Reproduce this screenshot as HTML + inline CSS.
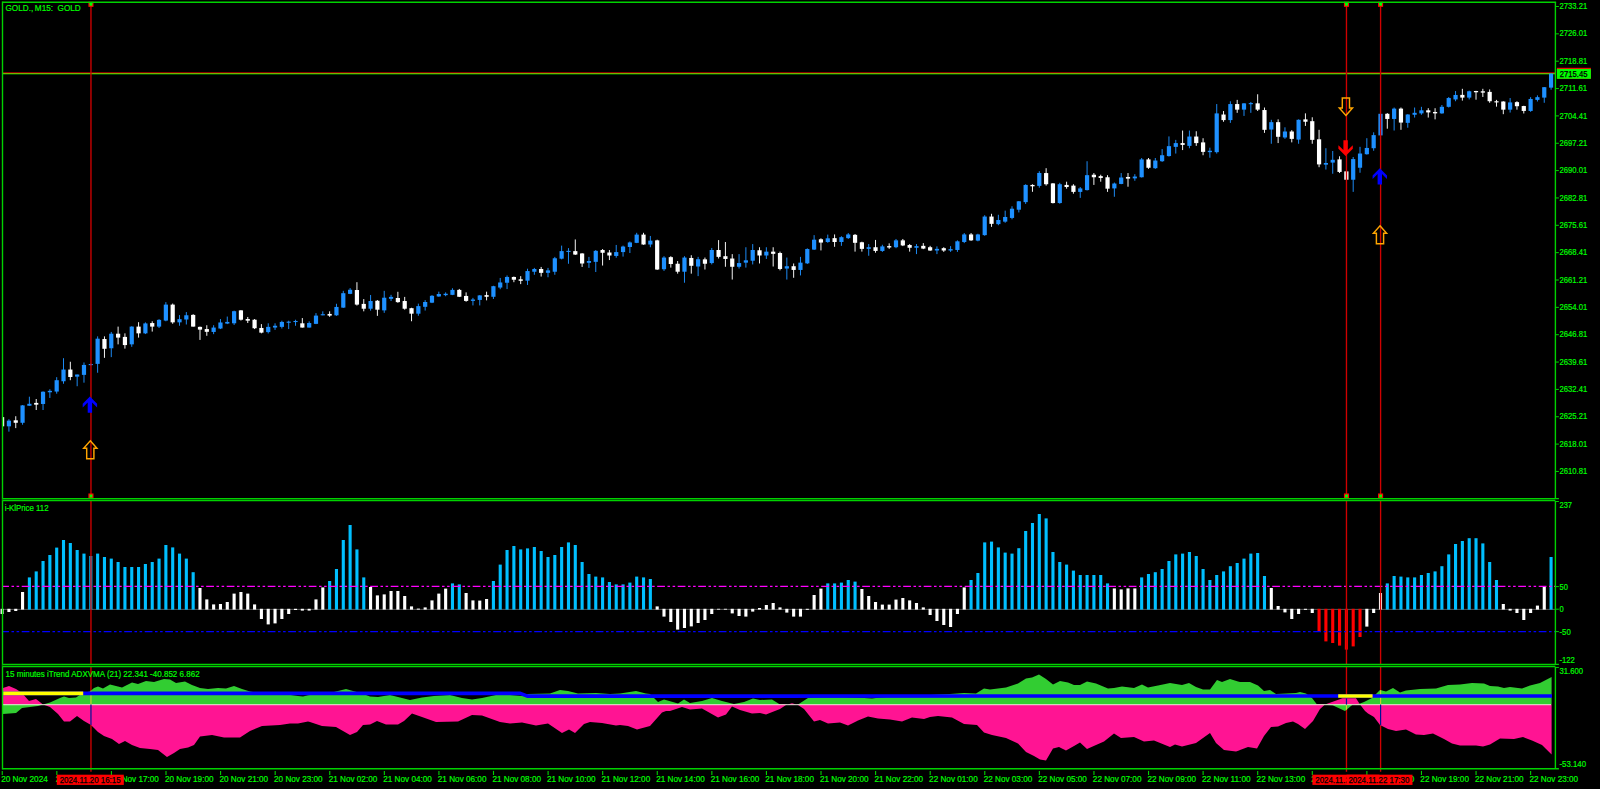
<!DOCTYPE html><html><head><meta charset="utf-8"><title>GOLD M15</title><style>html,body{margin:0;padding:0;background:#000;overflow:hidden}body{width:1600px;height:789px;position:relative}</style></head><body><svg width="1600" height="789" viewBox="0 0 1600 789" style="display:block;position:absolute;left:0;top:0" font-family="Liberation Sans, Arial, sans-serif">
<rect width="1600" height="789" fill="#000"/>
<g shape-rendering="crispEdges"><rect x="3" y="72" width="1552" height="1" fill="#8c0000"/><rect x="3" y="73" width="1552" height="1" fill="#78b400"/><rect x="3" y="74" width="1552" height="1" fill="#005000"/></g>
<g clip-path="url(#cm)"><line x1="2.10" y1="417.10" x2="2.10" y2="426.33" stroke="#ffffff" stroke-width="0.95"/><rect x="0.00" y="417.10" width="4.2" height="9.23" fill="#ffffff"/><line x1="8.92" y1="419.23" x2="8.92" y2="431.65" stroke="#1e90ff" stroke-width="0.95"/><rect x="6.82" y="420.65" width="4.2" height="5.68" fill="#1e90ff"/><line x1="15.75" y1="416.22" x2="15.75" y2="428.11" stroke="#ffffff" stroke-width="0.95"/><rect x="13.65" y="420.30" width="4.2" height="2.48" fill="#ffffff"/><line x1="22.57" y1="405.04" x2="22.57" y2="424.73" stroke="#1e90ff" stroke-width="0.95"/><rect x="20.47" y="405.39" width="4.2" height="17.39" fill="#1e90ff"/><line x1="29.39" y1="396.70" x2="29.39" y2="405.75" stroke="#1e90ff" stroke-width="0.95"/><rect x="27.29" y="403.80" width="4.2" height="1.95" fill="#1e90ff"/><line x1="36.22" y1="399.01" x2="36.22" y2="410.01" stroke="#ffffff" stroke-width="0.95"/><rect x="34.12" y="402.91" width="4.2" height="1.77" fill="#ffffff"/><line x1="43.04" y1="391.38" x2="43.04" y2="410.01" stroke="#1e90ff" stroke-width="0.95"/><rect x="40.94" y="391.73" width="4.2" height="12.24" fill="#1e90ff"/><line x1="49.87" y1="389.25" x2="49.87" y2="397.94" stroke="#1e90ff" stroke-width="0.95"/><rect x="47.77" y="390.84" width="4.2" height="1.42" fill="#1e90ff"/><line x1="56.69" y1="377.18" x2="56.69" y2="393.68" stroke="#1e90ff" stroke-width="0.95"/><rect x="54.59" y="380.20" width="4.2" height="11.36" fill="#1e90ff"/><line x1="63.51" y1="358.20" x2="63.51" y2="383.75" stroke="#1e90ff" stroke-width="0.95"/><rect x="61.41" y="369.55" width="4.2" height="11.71" fill="#1e90ff"/><line x1="70.34" y1="361.75" x2="70.34" y2="380.20" stroke="#ffffff" stroke-width="0.95"/><rect x="68.24" y="369.55" width="4.2" height="7.45" fill="#ffffff"/><line x1="77.16" y1="374.52" x2="77.16" y2="386.23" stroke="#1e90ff" stroke-width="0.95"/><rect x="75.06" y="374.52" width="4.2" height="2.13" fill="#1e90ff"/><line x1="83.98" y1="362.46" x2="83.98" y2="382.68" stroke="#1e90ff" stroke-width="0.95"/><rect x="81.88" y="364.94" width="4.2" height="9.94" fill="#1e90ff"/><line x1="90.81" y1="363.52" x2="90.81" y2="365.65" stroke="#1e90ff" stroke-width="0.95"/><rect x="88.71" y="364.05" width="4.2" height="1.06" fill="#1e90ff"/><line x1="97.63" y1="336.37" x2="97.63" y2="372.75" stroke="#1e90ff" stroke-width="0.95"/><rect x="95.53" y="338.68" width="4.2" height="25.20" fill="#1e90ff"/><line x1="104.46" y1="336.37" x2="104.46" y2="357.84" stroke="#ffffff" stroke-width="0.95"/><rect x="102.36" y="339.03" width="4.2" height="9.76" fill="#ffffff"/><line x1="111.28" y1="331.94" x2="111.28" y2="357.13" stroke="#1e90ff" stroke-width="0.95"/><rect x="109.18" y="333.71" width="4.2" height="14.55" fill="#1e90ff"/><line x1="118.10" y1="326.61" x2="118.10" y2="344.36" stroke="#ffffff" stroke-width="0.95"/><rect x="116.00" y="333.71" width="4.2" height="3.90" fill="#ffffff"/><line x1="124.93" y1="333.36" x2="124.93" y2="348.62" stroke="#ffffff" stroke-width="0.95"/><rect x="122.83" y="336.91" width="4.2" height="8.16" fill="#ffffff"/><line x1="131.75" y1="326.26" x2="131.75" y2="346.84" stroke="#1e90ff" stroke-width="0.95"/><rect x="129.65" y="326.61" width="4.2" height="17.74" fill="#1e90ff"/><line x1="138.57" y1="322.18" x2="138.57" y2="337.62" stroke="#ffffff" stroke-width="0.95"/><rect x="136.47" y="326.61" width="4.2" height="6.74" fill="#ffffff"/><line x1="145.40" y1="322.36" x2="145.40" y2="334.07" stroke="#1e90ff" stroke-width="0.95"/><rect x="143.30" y="323.42" width="4.2" height="9.94" fill="#1e90ff"/><line x1="152.22" y1="321.29" x2="152.22" y2="331.58" stroke="#ffffff" stroke-width="0.95"/><rect x="150.12" y="323.07" width="4.2" height="3.55" fill="#ffffff"/><line x1="159.05" y1="319.16" x2="159.05" y2="328.03" stroke="#1e90ff" stroke-width="0.95"/><rect x="156.95" y="319.87" width="4.2" height="6.74" fill="#1e90ff"/><line x1="165.87" y1="302.13" x2="165.87" y2="321.29" stroke="#1e90ff" stroke-width="0.95"/><rect x="163.77" y="304.61" width="4.2" height="15.97" fill="#1e90ff"/><line x1="172.69" y1="303.55" x2="172.69" y2="323.78" stroke="#ffffff" stroke-width="0.95"/><rect x="170.59" y="304.61" width="4.2" height="17.74" fill="#ffffff"/><line x1="179.52" y1="315.08" x2="179.52" y2="325.73" stroke="#1e90ff" stroke-width="0.95"/><rect x="177.42" y="319.16" width="4.2" height="3.19" fill="#1e90ff"/><line x1="186.34" y1="312.07" x2="186.34" y2="324.49" stroke="#1e90ff" stroke-width="0.95"/><rect x="184.24" y="315.26" width="4.2" height="4.26" fill="#1e90ff"/><line x1="193.16" y1="314.19" x2="193.16" y2="326.61" stroke="#ffffff" stroke-width="0.95"/><rect x="191.06" y="314.90" width="4.2" height="11.71" fill="#ffffff"/><line x1="199.99" y1="326.60" x2="199.99" y2="339.93" stroke="#ffffff" stroke-width="0.95"/><rect x="197.89" y="326.87" width="4.2" height="2.75" fill="#ffffff"/><line x1="206.81" y1="325.22" x2="206.81" y2="335.81" stroke="#ffffff" stroke-width="0.95"/><rect x="204.71" y="329.07" width="4.2" height="2.75" fill="#ffffff"/><line x1="213.63" y1="325.22" x2="213.63" y2="334.16" stroke="#1e90ff" stroke-width="0.95"/><rect x="211.53" y="327.56" width="4.2" height="4.40" fill="#1e90ff"/><line x1="220.46" y1="319.04" x2="220.46" y2="329.07" stroke="#1e90ff" stroke-width="0.95"/><rect x="218.36" y="322.47" width="4.2" height="6.05" fill="#1e90ff"/><line x1="227.28" y1="316.56" x2="227.28" y2="324.12" stroke="#1e90ff" stroke-width="0.95"/><rect x="225.18" y="321.92" width="4.2" height="1.65" fill="#1e90ff"/><line x1="234.11" y1="310.65" x2="234.11" y2="324.95" stroke="#1e90ff" stroke-width="0.95"/><rect x="232.01" y="311.20" width="4.2" height="12.10" fill="#1e90ff"/><line x1="240.93" y1="310.10" x2="240.93" y2="320.55" stroke="#ffffff" stroke-width="0.95"/><rect x="238.83" y="310.37" width="4.2" height="9.35" fill="#ffffff"/><line x1="247.75" y1="316.97" x2="247.75" y2="323.02" stroke="#ffffff" stroke-width="0.95"/><rect x="245.65" y="319.04" width="4.2" height="1.65" fill="#ffffff"/><line x1="254.58" y1="319.04" x2="254.58" y2="329.07" stroke="#ffffff" stroke-width="0.95"/><rect x="252.48" y="319.72" width="4.2" height="8.52" fill="#ffffff"/><line x1="261.40" y1="324.12" x2="261.40" y2="333.33" stroke="#ffffff" stroke-width="0.95"/><rect x="259.30" y="327.97" width="4.2" height="4.67" fill="#ffffff"/><line x1="268.22" y1="323.30" x2="268.22" y2="333.47" stroke="#1e90ff" stroke-width="0.95"/><rect x="266.12" y="326.87" width="4.2" height="5.22" fill="#1e90ff"/><line x1="275.05" y1="323.30" x2="275.05" y2="329.90" stroke="#1e90ff" stroke-width="0.95"/><rect x="272.95" y="325.77" width="4.2" height="1.79" fill="#1e90ff"/><line x1="281.87" y1="320.69" x2="281.87" y2="328.52" stroke="#1e90ff" stroke-width="0.95"/><rect x="279.77" y="321.92" width="4.2" height="4.95" fill="#1e90ff"/><line x1="288.70" y1="320.69" x2="288.70" y2="329.07" stroke="#1e90ff" stroke-width="0.95"/><rect x="286.60" y="321.65" width="4.2" height="1.10" fill="#1e90ff"/><line x1="295.52" y1="319.72" x2="295.52" y2="325.77" stroke="#1e90ff" stroke-width="0.95"/><rect x="293.42" y="320.96" width="4.2" height="1.10" fill="#1e90ff"/><line x1="302.34" y1="318.07" x2="302.34" y2="327.56" stroke="#ffffff" stroke-width="0.95"/><rect x="300.24" y="323.30" width="4.2" height="4.26" fill="#ffffff"/><line x1="309.17" y1="321.37" x2="309.17" y2="327.56" stroke="#1e90ff" stroke-width="0.95"/><rect x="307.07" y="323.02" width="4.2" height="4.54" fill="#1e90ff"/><line x1="315.99" y1="313.12" x2="315.99" y2="324.12" stroke="#1e90ff" stroke-width="0.95"/><rect x="313.89" y="315.60" width="4.2" height="8.25" fill="#1e90ff"/><line x1="322.81" y1="311.34" x2="322.81" y2="315.32" stroke="#1e90ff" stroke-width="0.95"/><rect x="320.71" y="314.22" width="4.2" height="1.10" fill="#1e90ff"/><line x1="329.64" y1="311.34" x2="329.64" y2="316.84" stroke="#ffffff" stroke-width="0.95"/><rect x="327.54" y="313.95" width="4.2" height="1.65" fill="#ffffff"/><line x1="336.46" y1="303.77" x2="336.46" y2="315.87" stroke="#1e90ff" stroke-width="0.95"/><rect x="334.36" y="306.94" width="4.2" height="8.39" fill="#1e90ff"/><line x1="343.29" y1="290.85" x2="343.29" y2="307.90" stroke="#1e90ff" stroke-width="0.95"/><rect x="341.19" y="293.19" width="4.2" height="14.44" fill="#1e90ff"/><line x1="350.11" y1="288.10" x2="350.11" y2="294.15" stroke="#1e90ff" stroke-width="0.95"/><rect x="348.01" y="289.75" width="4.2" height="4.12" fill="#1e90ff"/><line x1="356.93" y1="282.19" x2="356.93" y2="305.56" stroke="#ffffff" stroke-width="0.95"/><rect x="354.83" y="290.02" width="4.2" height="14.57" fill="#ffffff"/><line x1="363.76" y1="299.10" x2="363.76" y2="311.34" stroke="#ffffff" stroke-width="0.95"/><rect x="361.66" y="303.91" width="4.2" height="4.81" fill="#ffffff"/><line x1="370.58" y1="294.97" x2="370.58" y2="310.65" stroke="#1e90ff" stroke-width="0.95"/><rect x="368.48" y="301.02" width="4.2" height="7.70" fill="#1e90ff"/><line x1="377.40" y1="300.06" x2="377.40" y2="315.87" stroke="#ffffff" stroke-width="0.95"/><rect x="375.30" y="300.75" width="4.2" height="8.94" fill="#ffffff"/><line x1="384.23" y1="290.85" x2="384.23" y2="312.85" stroke="#1e90ff" stroke-width="0.95"/><rect x="382.13" y="297.72" width="4.2" height="12.65" fill="#1e90ff"/><line x1="391.05" y1="294.84" x2="391.05" y2="301.02" stroke="#1e90ff" stroke-width="0.95"/><rect x="388.95" y="296.90" width="4.2" height="1.92" fill="#1e90ff"/><line x1="397.87" y1="291.81" x2="397.87" y2="302.81" stroke="#ffffff" stroke-width="0.95"/><rect x="395.77" y="298.00" width="4.2" height="4.12" fill="#ffffff"/><line x1="404.70" y1="296.90" x2="404.70" y2="309.69" stroke="#ffffff" stroke-width="0.95"/><rect x="402.60" y="301.02" width="4.2" height="7.70" fill="#ffffff"/><line x1="411.52" y1="307.77" x2="411.52" y2="321.25" stroke="#ffffff" stroke-width="0.95"/><rect x="409.42" y="308.18" width="4.2" height="5.50" fill="#ffffff"/><line x1="418.35" y1="303.65" x2="418.35" y2="315.75" stroke="#1e90ff" stroke-width="0.95"/><rect x="416.25" y="306.12" width="4.2" height="7.56" fill="#1e90ff"/><line x1="425.17" y1="300.07" x2="425.17" y2="310.52" stroke="#1e90ff" stroke-width="0.95"/><rect x="423.07" y="302.00" width="4.2" height="4.81" fill="#1e90ff"/><line x1="431.99" y1="295.12" x2="431.99" y2="303.10" stroke="#1e90ff" stroke-width="0.95"/><rect x="429.89" y="295.81" width="4.2" height="6.87" fill="#1e90ff"/><line x1="438.82" y1="291.68" x2="438.82" y2="296.77" stroke="#1e90ff" stroke-width="0.95"/><rect x="436.72" y="294.02" width="4.2" height="2.47" fill="#1e90ff"/><line x1="445.64" y1="292.37" x2="445.64" y2="296.22" stroke="#1e90ff" stroke-width="0.95"/><rect x="443.54" y="293.75" width="4.2" height="1.37" fill="#1e90ff"/><line x1="452.46" y1="288.25" x2="452.46" y2="295.12" stroke="#1e90ff" stroke-width="0.95"/><rect x="450.36" y="289.90" width="4.2" height="4.95" fill="#1e90ff"/><line x1="459.29" y1="288.94" x2="459.29" y2="297.05" stroke="#ffffff" stroke-width="0.95"/><rect x="457.19" y="289.90" width="4.2" height="6.87" fill="#ffffff"/><line x1="466.11" y1="292.37" x2="466.11" y2="301.72" stroke="#ffffff" stroke-width="0.95"/><rect x="464.01" y="295.95" width="4.2" height="4.95" fill="#ffffff"/><line x1="472.94" y1="297.87" x2="472.94" y2="305.43" stroke="#1e90ff" stroke-width="0.95"/><rect x="470.84" y="299.52" width="4.2" height="1.37" fill="#1e90ff"/><line x1="479.76" y1="295.12" x2="479.76" y2="305.43" stroke="#1e90ff" stroke-width="0.95"/><rect x="477.66" y="295.40" width="4.2" height="4.54" fill="#1e90ff"/><line x1="486.58" y1="291.68" x2="486.58" y2="300.35" stroke="#ffffff" stroke-width="0.95"/><rect x="484.48" y="295.12" width="4.2" height="1.65" fill="#ffffff"/><line x1="493.41" y1="285.77" x2="493.41" y2="298.97" stroke="#1e90ff" stroke-width="0.95"/><rect x="491.31" y="286.19" width="4.2" height="10.59" fill="#1e90ff"/><line x1="500.23" y1="277.94" x2="500.23" y2="289.21" stroke="#1e90ff" stroke-width="0.95"/><rect x="498.13" y="282.47" width="4.2" height="5.09" fill="#1e90ff"/><line x1="507.05" y1="275.46" x2="507.05" y2="289.07" stroke="#1e90ff" stroke-width="0.95"/><rect x="504.95" y="276.97" width="4.2" height="5.77" fill="#1e90ff"/><line x1="513.88" y1="276.56" x2="513.88" y2="282.20" stroke="#ffffff" stroke-width="0.95"/><rect x="511.78" y="276.97" width="4.2" height="2.75" fill="#ffffff"/><line x1="520.70" y1="276.15" x2="520.70" y2="284.12" stroke="#ffffff" stroke-width="0.95"/><rect x="518.60" y="279.31" width="4.2" height="1.51" fill="#ffffff"/><line x1="527.52" y1="268.72" x2="527.52" y2="284.95" stroke="#1e90ff" stroke-width="0.95"/><rect x="525.42" y="271.06" width="4.2" height="9.62" fill="#1e90ff"/><line x1="534.35" y1="267.90" x2="534.35" y2="274.77" stroke="#1e90ff" stroke-width="0.95"/><rect x="532.25" y="269.00" width="4.2" height="2.75" fill="#1e90ff"/><line x1="541.17" y1="266.94" x2="541.17" y2="276.56" stroke="#ffffff" stroke-width="0.95"/><rect x="539.07" y="269.00" width="4.2" height="3.85" fill="#ffffff"/><line x1="548.00" y1="267.90" x2="548.00" y2="277.25" stroke="#1e90ff" stroke-width="0.95"/><rect x="545.90" y="270.37" width="4.2" height="2.47" fill="#1e90ff"/><line x1="554.82" y1="256.90" x2="554.82" y2="274.77" stroke="#1e90ff" stroke-width="0.95"/><rect x="552.72" y="258.27" width="4.2" height="13.47" fill="#1e90ff"/><line x1="561.64" y1="245.62" x2="561.64" y2="259.37" stroke="#1e90ff" stroke-width="0.95"/><rect x="559.54" y="251.12" width="4.2" height="7.56" fill="#1e90ff"/><line x1="568.47" y1="248.10" x2="568.47" y2="263.77" stroke="#1e90ff" stroke-width="0.95"/><rect x="566.37" y="250.85" width="4.2" height="1.10" fill="#1e90ff"/><line x1="575.29" y1="239.44" x2="575.29" y2="254.97" stroke="#ffffff" stroke-width="0.95"/><rect x="573.19" y="251.12" width="4.2" height="3.44" fill="#ffffff"/><line x1="582.11" y1="253.19" x2="582.11" y2="266.94" stroke="#ffffff" stroke-width="0.95"/><rect x="580.01" y="253.46" width="4.2" height="10.04" fill="#ffffff"/><line x1="588.94" y1="256.90" x2="588.94" y2="267.90" stroke="#1e90ff" stroke-width="0.95"/><rect x="586.84" y="261.02" width="4.2" height="1.79" fill="#1e90ff"/><line x1="595.76" y1="250.02" x2="595.76" y2="272.02" stroke="#1e90ff" stroke-width="0.95"/><rect x="593.66" y="250.85" width="4.2" height="11.00" fill="#1e90ff"/><line x1="602.59" y1="249.06" x2="602.59" y2="265.56" stroke="#ffffff" stroke-width="0.95"/><rect x="600.49" y="250.02" width="4.2" height="2.75" fill="#ffffff"/><line x1="609.41" y1="250.02" x2="609.41" y2="260.06" stroke="#ffffff" stroke-width="0.95"/><rect x="607.31" y="252.50" width="4.2" height="3.02" fill="#ffffff"/><line x1="616.23" y1="244.94" x2="616.23" y2="257.72" stroke="#1e90ff" stroke-width="0.95"/><rect x="614.13" y="252.09" width="4.2" height="3.85" fill="#1e90ff"/><line x1="623.06" y1="245.60" x2="623.06" y2="256.60" stroke="#1e90ff" stroke-width="0.95"/><rect x="620.96" y="246.56" width="4.2" height="5.50" fill="#1e90ff"/><line x1="629.88" y1="241.47" x2="629.88" y2="253.02" stroke="#1e90ff" stroke-width="0.95"/><rect x="627.78" y="242.44" width="4.2" height="4.54" fill="#1e90ff"/><line x1="636.70" y1="232.81" x2="636.70" y2="243.12" stroke="#1e90ff" stroke-width="0.95"/><rect x="634.60" y="234.60" width="4.2" height="8.25" fill="#1e90ff"/><line x1="643.53" y1="232.81" x2="643.53" y2="244.77" stroke="#ffffff" stroke-width="0.95"/><rect x="641.43" y="234.60" width="4.2" height="9.90" fill="#ffffff"/><line x1="650.35" y1="235.97" x2="650.35" y2="247.25" stroke="#1e90ff" stroke-width="0.95"/><rect x="648.25" y="240.65" width="4.2" height="3.85" fill="#1e90ff"/><line x1="657.18" y1="239.69" x2="657.18" y2="269.93" stroke="#ffffff" stroke-width="0.95"/><rect x="655.08" y="240.37" width="4.2" height="29.15" fill="#ffffff"/><line x1="664.00" y1="256.19" x2="664.00" y2="270.90" stroke="#1e90ff" stroke-width="0.95"/><rect x="661.90" y="257.56" width="4.2" height="11.69" fill="#1e90ff"/><line x1="670.82" y1="256.19" x2="670.82" y2="267.60" stroke="#ffffff" stroke-width="0.95"/><rect x="668.72" y="257.15" width="4.2" height="6.87" fill="#ffffff"/><line x1="677.65" y1="261.00" x2="677.65" y2="273.65" stroke="#ffffff" stroke-width="0.95"/><rect x="675.55" y="263.75" width="4.2" height="7.97" fill="#ffffff"/><line x1="684.47" y1="256.19" x2="684.47" y2="282.72" stroke="#1e90ff" stroke-width="0.95"/><rect x="682.37" y="257.56" width="4.2" height="14.16" fill="#1e90ff"/><line x1="691.29" y1="255.22" x2="691.29" y2="273.65" stroke="#ffffff" stroke-width="0.95"/><rect x="689.19" y="257.97" width="4.2" height="7.84" fill="#ffffff"/><line x1="698.12" y1="256.87" x2="698.12" y2="276.12" stroke="#1e90ff" stroke-width="0.95"/><rect x="696.02" y="259.21" width="4.2" height="7.29" fill="#1e90ff"/><line x1="704.94" y1="257.56" x2="704.94" y2="269.52" stroke="#ffffff" stroke-width="0.95"/><rect x="702.84" y="259.35" width="4.2" height="4.40" fill="#ffffff"/><line x1="711.76" y1="247.94" x2="711.76" y2="264.43" stroke="#1e90ff" stroke-width="0.95"/><rect x="709.66" y="250.00" width="4.2" height="13.06" fill="#1e90ff"/><line x1="718.59" y1="240.10" x2="718.59" y2="258.52" stroke="#ffffff" stroke-width="0.95"/><rect x="716.49" y="250.00" width="4.2" height="6.87" fill="#ffffff"/><line x1="725.41" y1="242.02" x2="725.41" y2="266.77" stroke="#ffffff" stroke-width="0.95"/><rect x="723.31" y="256.19" width="4.2" height="2.75" fill="#ffffff"/><line x1="732.24" y1="254.12" x2="732.24" y2="279.56" stroke="#ffffff" stroke-width="0.95"/><rect x="730.14" y="258.52" width="4.2" height="8.25" fill="#ffffff"/><line x1="739.06" y1="254.12" x2="739.06" y2="268.56" stroke="#1e90ff" stroke-width="0.95"/><rect x="736.96" y="263.06" width="4.2" height="3.71" fill="#1e90ff"/><line x1="745.88" y1="247.25" x2="745.88" y2="267.60" stroke="#1e90ff" stroke-width="0.95"/><rect x="743.78" y="260.31" width="4.2" height="2.34" fill="#1e90ff"/><line x1="752.71" y1="244.09" x2="752.71" y2="264.43" stroke="#1e90ff" stroke-width="0.95"/><rect x="750.61" y="250.00" width="4.2" height="10.72" fill="#1e90ff"/><line x1="759.53" y1="247.25" x2="759.53" y2="263.47" stroke="#ffffff" stroke-width="0.95"/><rect x="757.43" y="250.27" width="4.2" height="5.22" fill="#ffffff"/><line x1="766.35" y1="247.25" x2="766.35" y2="258.94" stroke="#1e90ff" stroke-width="0.95"/><rect x="764.25" y="251.65" width="4.2" height="3.85" fill="#1e90ff"/><line x1="773.18" y1="247.25" x2="773.18" y2="266.50" stroke="#ffffff" stroke-width="0.95"/><rect x="771.08" y="251.65" width="4.2" height="2.20" fill="#ffffff"/><line x1="780.00" y1="251.65" x2="780.00" y2="270.35" stroke="#ffffff" stroke-width="0.95"/><rect x="777.90" y="253.02" width="4.2" height="15.95" fill="#ffffff"/><line x1="786.83" y1="257.56" x2="786.83" y2="279.56" stroke="#1e90ff" stroke-width="0.95"/><rect x="784.73" y="266.22" width="4.2" height="2.34" fill="#1e90ff"/><line x1="793.65" y1="263.47" x2="793.65" y2="277.77" stroke="#ffffff" stroke-width="0.95"/><rect x="791.55" y="266.22" width="4.2" height="3.71" fill="#ffffff"/><line x1="800.47" y1="256.87" x2="800.47" y2="275.43" stroke="#1e90ff" stroke-width="0.95"/><rect x="798.37" y="262.65" width="4.2" height="7.29" fill="#1e90ff"/><line x1="807.30" y1="248.35" x2="807.30" y2="264.02" stroke="#1e90ff" stroke-width="0.95"/><rect x="805.20" y="249.04" width="4.2" height="14.30" fill="#1e90ff"/><line x1="814.12" y1="235.15" x2="814.12" y2="250.00" stroke="#1e90ff" stroke-width="0.95"/><rect x="812.02" y="239.69" width="4.2" height="9.90" fill="#1e90ff"/><line x1="820.94" y1="238.31" x2="820.94" y2="250.41" stroke="#ffffff" stroke-width="0.95"/><rect x="818.84" y="239.27" width="4.2" height="3.30" fill="#ffffff"/><line x1="827.77" y1="234.60" x2="827.77" y2="242.85" stroke="#1e90ff" stroke-width="0.95"/><rect x="825.67" y="238.31" width="4.2" height="3.71" fill="#1e90ff"/><line x1="834.59" y1="234.43" x2="834.59" y2="246.81" stroke="#ffffff" stroke-width="0.95"/><rect x="832.49" y="238.15" width="4.2" height="3.85" fill="#ffffff"/><line x1="841.42" y1="236.22" x2="841.42" y2="245.85" stroke="#1e90ff" stroke-width="0.95"/><rect x="839.32" y="237.18" width="4.2" height="4.81" fill="#1e90ff"/><line x1="848.24" y1="233.06" x2="848.24" y2="238.97" stroke="#1e90ff" stroke-width="0.95"/><rect x="846.14" y="234.43" width="4.2" height="3.71" fill="#1e90ff"/><line x1="855.06" y1="234.02" x2="855.06" y2="251.62" stroke="#ffffff" stroke-width="0.95"/><rect x="852.96" y="234.85" width="4.2" height="7.97" fill="#ffffff"/><line x1="861.89" y1="241.72" x2="861.89" y2="251.62" stroke="#ffffff" stroke-width="0.95"/><rect x="859.79" y="242.27" width="4.2" height="6.60" fill="#ffffff"/><line x1="868.71" y1="244.06" x2="868.71" y2="255.75" stroke="#1e90ff" stroke-width="0.95"/><rect x="866.61" y="247.22" width="4.2" height="1.65" fill="#1e90ff"/><line x1="875.53" y1="239.93" x2="875.53" y2="252.72" stroke="#ffffff" stroke-width="0.95"/><rect x="873.43" y="247.22" width="4.2" height="3.71" fill="#ffffff"/><line x1="882.36" y1="244.75" x2="882.36" y2="251.90" stroke="#1e90ff" stroke-width="0.95"/><rect x="880.26" y="246.40" width="4.2" height="4.54" fill="#1e90ff"/><line x1="889.18" y1="243.37" x2="889.18" y2="248.87" stroke="#ffffff" stroke-width="0.95"/><rect x="887.08" y="246.12" width="4.2" height="1.37" fill="#ffffff"/><line x1="896.00" y1="238.97" x2="896.00" y2="248.18" stroke="#1e90ff" stroke-width="0.95"/><rect x="893.90" y="240.35" width="4.2" height="6.87" fill="#1e90ff"/><line x1="902.83" y1="238.97" x2="902.83" y2="246.12" stroke="#ffffff" stroke-width="0.95"/><rect x="900.73" y="240.35" width="4.2" height="5.09" fill="#ffffff"/><line x1="909.65" y1="244.06" x2="909.65" y2="251.62" stroke="#ffffff" stroke-width="0.95"/><rect x="907.55" y="245.02" width="4.2" height="2.75" fill="#ffffff"/><line x1="916.48" y1="244.06" x2="916.48" y2="254.10" stroke="#1e90ff" stroke-width="0.95"/><rect x="914.38" y="246.12" width="4.2" height="1.65" fill="#1e90ff"/><line x1="923.30" y1="243.10" x2="923.30" y2="249.15" stroke="#ffffff" stroke-width="0.95"/><rect x="921.20" y="245.85" width="4.2" height="2.75" fill="#ffffff"/><line x1="930.12" y1="245.85" x2="930.12" y2="250.93" stroke="#ffffff" stroke-width="0.95"/><rect x="928.02" y="247.22" width="4.2" height="3.30" fill="#ffffff"/><line x1="936.95" y1="246.40" x2="936.95" y2="254.10" stroke="#1e90ff" stroke-width="0.95"/><rect x="934.85" y="248.87" width="4.2" height="1.65" fill="#1e90ff"/><line x1="943.77" y1="247.22" x2="943.77" y2="251.90" stroke="#ffffff" stroke-width="0.95"/><rect x="941.67" y="248.18" width="4.2" height="2.34" fill="#ffffff"/><line x1="950.59" y1="246.12" x2="950.59" y2="251.90" stroke="#1e90ff" stroke-width="0.95"/><rect x="948.49" y="249.15" width="4.2" height="1.37" fill="#1e90ff"/><line x1="957.42" y1="240.35" x2="957.42" y2="251.90" stroke="#1e90ff" stroke-width="0.95"/><rect x="955.32" y="241.31" width="4.2" height="8.66" fill="#1e90ff"/><line x1="964.24" y1="233.06" x2="964.24" y2="243.10" stroke="#1e90ff" stroke-width="0.95"/><rect x="962.14" y="234.43" width="4.2" height="7.56" fill="#1e90ff"/><line x1="971.07" y1="233.06" x2="971.07" y2="240.90" stroke="#ffffff" stroke-width="0.95"/><rect x="968.97" y="234.43" width="4.2" height="5.91" fill="#ffffff"/><line x1="977.89" y1="233.75" x2="977.89" y2="241.31" stroke="#1e90ff" stroke-width="0.95"/><rect x="975.79" y="234.43" width="4.2" height="6.19" fill="#1e90ff"/><line x1="984.71" y1="215.19" x2="984.71" y2="235.81" stroke="#1e90ff" stroke-width="0.95"/><rect x="982.61" y="216.56" width="4.2" height="18.56" fill="#1e90ff"/><line x1="991.54" y1="213.81" x2="991.54" y2="226.87" stroke="#ffffff" stroke-width="0.95"/><rect x="989.44" y="216.56" width="4.2" height="7.29" fill="#ffffff"/><line x1="998.36" y1="214.77" x2="998.36" y2="225.22" stroke="#1e90ff" stroke-width="0.95"/><rect x="996.26" y="220.00" width="4.2" height="4.12" fill="#1e90ff"/><line x1="1005.18" y1="210.65" x2="1005.18" y2="222.75" stroke="#1e90ff" stroke-width="0.95"/><rect x="1003.08" y="216.97" width="4.2" height="4.67" fill="#1e90ff"/><line x1="1012.01" y1="206.25" x2="1012.01" y2="219.31" stroke="#1e90ff" stroke-width="0.95"/><rect x="1009.91" y="208.72" width="4.2" height="9.21" fill="#1e90ff"/><line x1="1018.83" y1="201.02" x2="1018.83" y2="212.44" stroke="#1e90ff" stroke-width="0.95"/><rect x="1016.73" y="201.30" width="4.2" height="8.39" fill="#1e90ff"/><line x1="1025.65" y1="184.25" x2="1025.65" y2="203.91" stroke="#1e90ff" stroke-width="0.95"/><rect x="1023.55" y="184.94" width="4.2" height="17.19" fill="#1e90ff"/><line x1="1032.48" y1="184.25" x2="1032.48" y2="191.81" stroke="#ffffff" stroke-width="0.95"/><rect x="1030.38" y="184.94" width="4.2" height="1.37" fill="#ffffff"/><line x1="1039.30" y1="171.19" x2="1039.30" y2="187.69" stroke="#1e90ff" stroke-width="0.95"/><rect x="1037.20" y="172.97" width="4.2" height="12.92" fill="#1e90ff"/><line x1="1046.13" y1="168.19" x2="1046.13" y2="185.62" stroke="#ffffff" stroke-width="0.95"/><rect x="1044.03" y="173.07" width="4.2" height="11.15" fill="#ffffff"/><line x1="1052.95" y1="183.11" x2="1052.95" y2="203.46" stroke="#ffffff" stroke-width="0.95"/><rect x="1050.85" y="183.39" width="4.2" height="19.66" fill="#ffffff"/><line x1="1059.77" y1="182.83" x2="1059.77" y2="203.74" stroke="#1e90ff" stroke-width="0.95"/><rect x="1057.67" y="184.22" width="4.2" height="18.82" fill="#1e90ff"/><line x1="1066.60" y1="181.71" x2="1066.60" y2="188.68" stroke="#ffffff" stroke-width="0.95"/><rect x="1064.50" y="184.92" width="4.2" height="2.09" fill="#ffffff"/><line x1="1073.42" y1="184.22" x2="1073.42" y2="193.70" stroke="#ffffff" stroke-width="0.95"/><rect x="1071.32" y="185.62" width="4.2" height="6.27" fill="#ffffff"/><line x1="1080.24" y1="187.01" x2="1080.24" y2="197.89" stroke="#1e90ff" stroke-width="0.95"/><rect x="1078.14" y="188.41" width="4.2" height="3.49" fill="#1e90ff"/><line x1="1087.07" y1="161.22" x2="1087.07" y2="190.50" stroke="#1e90ff" stroke-width="0.95"/><rect x="1084.97" y="175.16" width="4.2" height="14.92" fill="#1e90ff"/><line x1="1093.89" y1="173.07" x2="1093.89" y2="184.92" stroke="#ffffff" stroke-width="0.95"/><rect x="1091.79" y="174.74" width="4.2" height="2.51" fill="#ffffff"/><line x1="1100.72" y1="174.74" x2="1100.72" y2="181.71" stroke="#ffffff" stroke-width="0.95"/><rect x="1098.62" y="176.14" width="4.2" height="1.81" fill="#ffffff"/><line x1="1107.54" y1="175.16" x2="1107.54" y2="191.89" stroke="#ffffff" stroke-width="0.95"/><rect x="1105.44" y="177.25" width="4.2" height="11.43" fill="#ffffff"/><line x1="1114.36" y1="182.55" x2="1114.36" y2="196.77" stroke="#1e90ff" stroke-width="0.95"/><rect x="1112.26" y="183.53" width="4.2" height="4.88" fill="#1e90ff"/><line x1="1121.19" y1="173.07" x2="1121.19" y2="184.22" stroke="#1e90ff" stroke-width="0.95"/><rect x="1119.09" y="177.53" width="4.2" height="6.41" fill="#1e90ff"/><line x1="1128.01" y1="173.07" x2="1128.01" y2="186.73" stroke="#ffffff" stroke-width="0.95"/><rect x="1125.91" y="176.97" width="4.2" height="1.67" fill="#ffffff"/><line x1="1134.83" y1="174.19" x2="1134.83" y2="180.74" stroke="#1e90ff" stroke-width="0.95"/><rect x="1132.73" y="176.56" width="4.2" height="1.81" fill="#1e90ff"/><line x1="1141.66" y1="158.01" x2="1141.66" y2="177.53" stroke="#1e90ff" stroke-width="0.95"/><rect x="1139.56" y="159.41" width="4.2" height="17.84" fill="#1e90ff"/><line x1="1148.48" y1="158.01" x2="1148.48" y2="168.89" stroke="#ffffff" stroke-width="0.95"/><rect x="1146.38" y="159.41" width="4.2" height="8.36" fill="#ffffff"/><line x1="1155.31" y1="158.01" x2="1155.31" y2="168.89" stroke="#1e90ff" stroke-width="0.95"/><rect x="1153.21" y="160.52" width="4.2" height="7.67" fill="#1e90ff"/><line x1="1162.13" y1="149.09" x2="1162.13" y2="161.92" stroke="#1e90ff" stroke-width="0.95"/><rect x="1160.03" y="155.23" width="4.2" height="5.99" fill="#1e90ff"/><line x1="1168.95" y1="136.41" x2="1168.95" y2="156.62" stroke="#1e90ff" stroke-width="0.95"/><rect x="1166.85" y="146.16" width="4.2" height="9.90" fill="#1e90ff"/><line x1="1175.78" y1="139.89" x2="1175.78" y2="153.55" stroke="#1e90ff" stroke-width="0.95"/><rect x="1173.68" y="143.10" width="4.2" height="3.76" fill="#1e90ff"/><line x1="1182.60" y1="130.55" x2="1182.60" y2="150.07" stroke="#ffffff" stroke-width="0.95"/><rect x="1180.50" y="143.10" width="4.2" height="1.81" fill="#ffffff"/><line x1="1189.42" y1="130.55" x2="1189.42" y2="148.26" stroke="#1e90ff" stroke-width="0.95"/><rect x="1187.32" y="136.54" width="4.2" height="9.34" fill="#1e90ff"/><line x1="1196.25" y1="131.25" x2="1196.25" y2="145.89" stroke="#ffffff" stroke-width="0.95"/><rect x="1194.15" y="136.54" width="4.2" height="6.55" fill="#ffffff"/><line x1="1203.07" y1="138.22" x2="1203.07" y2="155.23" stroke="#ffffff" stroke-width="0.95"/><rect x="1200.97" y="142.40" width="4.2" height="9.48" fill="#ffffff"/><line x1="1209.89" y1="147.70" x2="1209.89" y2="157.74" stroke="#1e90ff" stroke-width="0.95"/><rect x="1207.79" y="150.76" width="4.2" height="1.39" fill="#1e90ff"/><line x1="1216.72" y1="104.06" x2="1216.72" y2="153.55" stroke="#1e90ff" stroke-width="0.95"/><rect x="1214.62" y="113.40" width="4.2" height="38.76" fill="#1e90ff"/><line x1="1223.54" y1="111.03" x2="1223.54" y2="121.77" stroke="#ffffff" stroke-width="0.95"/><rect x="1221.44" y="114.52" width="4.2" height="5.58" fill="#ffffff"/><line x1="1230.37" y1="101.27" x2="1230.37" y2="122.88" stroke="#1e90ff" stroke-width="0.95"/><rect x="1228.27" y="104.06" width="4.2" height="16.03" fill="#1e90ff"/><line x1="1237.19" y1="99.88" x2="1237.19" y2="112.84" stroke="#ffffff" stroke-width="0.95"/><rect x="1235.09" y="104.06" width="4.2" height="5.58" fill="#ffffff"/><line x1="1244.01" y1="103.09" x2="1244.01" y2="115.91" stroke="#1e90ff" stroke-width="0.95"/><rect x="1241.91" y="103.36" width="4.2" height="6.27" fill="#1e90ff"/><line x1="1250.84" y1="101.97" x2="1250.84" y2="112.84" stroke="#1e90ff" stroke-width="0.95"/><rect x="1248.74" y="103.09" width="4.2" height="1.12" fill="#1e90ff"/><line x1="1257.66" y1="94.27" x2="1257.66" y2="111.00" stroke="#ffffff" stroke-width="0.95"/><rect x="1255.56" y="103.34" width="4.2" height="6.27" fill="#ffffff"/><line x1="1264.48" y1="107.52" x2="1264.48" y2="132.89" stroke="#ffffff" stroke-width="0.95"/><rect x="1262.38" y="110.03" width="4.2" height="19.80" fill="#ffffff"/><line x1="1271.31" y1="119.79" x2="1271.31" y2="143.76" stroke="#1e90ff" stroke-width="0.95"/><rect x="1269.21" y="122.16" width="4.2" height="7.39" fill="#1e90ff"/><line x1="1278.13" y1="119.37" x2="1278.13" y2="143.07" stroke="#ffffff" stroke-width="0.95"/><rect x="1276.03" y="122.16" width="4.2" height="14.64" fill="#ffffff"/><line x1="1284.96" y1="127.31" x2="1284.96" y2="138.89" stroke="#1e90ff" stroke-width="0.95"/><rect x="1282.86" y="131.50" width="4.2" height="5.99" fill="#1e90ff"/><line x1="1291.78" y1="130.10" x2="1291.78" y2="142.37" stroke="#ffffff" stroke-width="0.95"/><rect x="1289.68" y="131.50" width="4.2" height="7.39" fill="#ffffff"/><line x1="1298.60" y1="119.37" x2="1298.60" y2="143.76" stroke="#1e90ff" stroke-width="0.95"/><rect x="1296.50" y="119.79" width="4.2" height="19.80" fill="#1e90ff"/><line x1="1305.43" y1="113.37" x2="1305.43" y2="125.92" stroke="#ffffff" stroke-width="0.95"/><rect x="1303.33" y="119.37" width="4.2" height="2.37" fill="#ffffff"/><line x1="1312.25" y1="117.28" x2="1312.25" y2="143.76" stroke="#ffffff" stroke-width="0.95"/><rect x="1310.15" y="121.18" width="4.2" height="18.68" fill="#ffffff"/><line x1="1319.07" y1="129.82" x2="1319.07" y2="167.19" stroke="#ffffff" stroke-width="0.95"/><rect x="1316.97" y="139.30" width="4.2" height="25.09" fill="#ffffff"/><line x1="1325.90" y1="148.23" x2="1325.90" y2="169.56" stroke="#1e90ff" stroke-width="0.95"/><rect x="1323.80" y="163.00" width="4.2" height="1.67" fill="#1e90ff"/><line x1="1332.72" y1="151.01" x2="1332.72" y2="173.74" stroke="#1e90ff" stroke-width="0.95"/><rect x="1330.62" y="159.80" width="4.2" height="2.79" fill="#1e90ff"/><line x1="1339.55" y1="156.31" x2="1339.55" y2="173.04" stroke="#ffffff" stroke-width="0.95"/><rect x="1337.45" y="159.38" width="4.2" height="12.55" fill="#ffffff"/><line x1="1346.37" y1="171.09" x2="1346.37" y2="180.01" stroke="#ffffff" stroke-width="0.95"/><rect x="1344.27" y="171.37" width="4.2" height="8.36" fill="#ffffff"/><line x1="1353.19" y1="157.01" x2="1353.19" y2="191.86" stroke="#1e90ff" stroke-width="0.95"/><rect x="1351.09" y="159.10" width="4.2" height="20.63" fill="#1e90ff"/><line x1="1360.02" y1="146.83" x2="1360.02" y2="172.76" stroke="#1e90ff" stroke-width="0.95"/><rect x="1357.92" y="153.52" width="4.2" height="14.22" fill="#1e90ff"/><line x1="1366.84" y1="138.19" x2="1366.84" y2="154.64" stroke="#1e90ff" stroke-width="0.95"/><rect x="1364.74" y="147.95" width="4.2" height="6.27" fill="#1e90ff"/><line x1="1373.66" y1="132.33" x2="1373.66" y2="150.74" stroke="#1e90ff" stroke-width="0.95"/><rect x="1371.56" y="135.12" width="4.2" height="13.10" fill="#1e90ff"/><line x1="1380.49" y1="113.37" x2="1380.49" y2="136.10" stroke="#1e90ff" stroke-width="0.95"/><rect x="1378.39" y="113.79" width="4.2" height="21.61" fill="#1e90ff"/><line x1="1387.31" y1="113.09" x2="1387.31" y2="128.71" stroke="#ffffff" stroke-width="0.95"/><rect x="1385.21" y="113.79" width="4.2" height="5.16" fill="#ffffff"/><line x1="1394.13" y1="107.52" x2="1394.13" y2="130.52" stroke="#1e90ff" stroke-width="0.95"/><rect x="1392.03" y="108.63" width="4.2" height="10.32" fill="#1e90ff"/><line x1="1400.96" y1="107.52" x2="1400.96" y2="129.82" stroke="#ffffff" stroke-width="0.95"/><rect x="1398.86" y="108.63" width="4.2" height="13.94" fill="#ffffff"/><line x1="1407.78" y1="114.21" x2="1407.78" y2="127.73" stroke="#1e90ff" stroke-width="0.95"/><rect x="1405.68" y="114.49" width="4.2" height="8.36" fill="#1e90ff"/><line x1="1414.61" y1="107.52" x2="1414.61" y2="117.56" stroke="#1e90ff" stroke-width="0.95"/><rect x="1412.51" y="112.82" width="4.2" height="1.95" fill="#1e90ff"/><line x1="1421.43" y1="106.82" x2="1421.43" y2="114.77" stroke="#1e90ff" stroke-width="0.95"/><rect x="1419.33" y="110.31" width="4.2" height="3.07" fill="#1e90ff"/><line x1="1428.25" y1="108.21" x2="1428.25" y2="117.56" stroke="#ffffff" stroke-width="0.95"/><rect x="1426.15" y="110.31" width="4.2" height="2.09" fill="#ffffff"/><line x1="1435.08" y1="108.21" x2="1435.08" y2="119.37" stroke="#ffffff" stroke-width="0.95"/><rect x="1432.98" y="111.98" width="4.2" height="1.39" fill="#ffffff"/><line x1="1441.90" y1="105.01" x2="1441.90" y2="113.79" stroke="#1e90ff" stroke-width="0.95"/><rect x="1439.80" y="106.82" width="4.2" height="6.55" fill="#1e90ff"/><line x1="1448.72" y1="97.06" x2="1448.72" y2="107.52" stroke="#1e90ff" stroke-width="0.95"/><rect x="1446.62" y="98.04" width="4.2" height="8.78" fill="#1e90ff"/><line x1="1455.55" y1="91.07" x2="1455.55" y2="101.24" stroke="#1e90ff" stroke-width="0.95"/><rect x="1453.45" y="94.97" width="4.2" height="4.46" fill="#1e90ff"/><line x1="1462.37" y1="88.82" x2="1462.37" y2="100.60" stroke="#ffffff" stroke-width="0.95"/><rect x="1460.27" y="94.89" width="4.2" height="2.72" fill="#ffffff"/><line x1="1469.20" y1="90.63" x2="1469.20" y2="99.42" stroke="#1e90ff" stroke-width="0.95"/><rect x="1467.10" y="91.27" width="4.2" height="6.34" fill="#1e90ff"/><line x1="1476.02" y1="90.81" x2="1476.02" y2="99.70" stroke="#ffffff" stroke-width="0.95"/><rect x="1473.92" y="91.00" width="4.2" height="1.27" fill="#ffffff"/><line x1="1482.84" y1="88.82" x2="1482.84" y2="96.98" stroke="#ffffff" stroke-width="0.95"/><rect x="1480.74" y="91.27" width="4.2" height="1.36" fill="#ffffff"/><line x1="1489.67" y1="89.45" x2="1489.67" y2="102.78" stroke="#ffffff" stroke-width="0.95"/><rect x="1487.57" y="91.90" width="4.2" height="9.33" fill="#ffffff"/><line x1="1496.49" y1="99.88" x2="1496.49" y2="106.67" stroke="#ffffff" stroke-width="0.95"/><rect x="1494.39" y="101.24" width="4.2" height="1.18" fill="#ffffff"/><line x1="1503.31" y1="101.24" x2="1503.31" y2="114.20" stroke="#ffffff" stroke-width="0.95"/><rect x="1501.21" y="101.51" width="4.2" height="8.16" fill="#ffffff"/><line x1="1510.14" y1="98.06" x2="1510.14" y2="112.56" stroke="#1e90ff" stroke-width="0.95"/><rect x="1508.04" y="102.41" width="4.2" height="7.25" fill="#1e90ff"/><line x1="1516.96" y1="101.24" x2="1516.96" y2="109.66" stroke="#ffffff" stroke-width="0.95"/><rect x="1514.86" y="102.14" width="4.2" height="4.08" fill="#ffffff"/><line x1="1523.79" y1="105.77" x2="1523.79" y2="113.47" stroke="#ffffff" stroke-width="0.95"/><rect x="1521.69" y="106.04" width="4.2" height="4.89" fill="#ffffff"/><line x1="1530.61" y1="97.16" x2="1530.61" y2="111.84" stroke="#1e90ff" stroke-width="0.95"/><rect x="1528.51" y="98.97" width="4.2" height="11.96" fill="#1e90ff"/><line x1="1537.43" y1="95.35" x2="1537.43" y2="101.51" stroke="#1e90ff" stroke-width="0.95"/><rect x="1535.33" y="97.16" width="4.2" height="2.72" fill="#1e90ff"/><line x1="1544.26" y1="87.01" x2="1544.26" y2="102.78" stroke="#1e90ff" stroke-width="0.95"/><rect x="1542.16" y="87.19" width="4.2" height="10.42" fill="#1e90ff"/><line x1="1551.08" y1="73.59" x2="1551.08" y2="89.73" stroke="#1e90ff" stroke-width="0.95"/><rect x="1548.98" y="73.59" width="4.2" height="14.05" fill="#1e90ff"/></g>
<defs><clipPath id="cm"><rect x="2.5" y="2.3" width="1552.9" height="497.2"/></clipPath></defs>
<line x1="2.5" y1="609.4000000000001" x2="1555.4" y2="609.4000000000001" stroke="#606060" stroke-width="0.9"/><rect x="0.55" y="608.80" width="3.1" height="5.20" fill="#ffffff"/><rect x="7.37" y="608.80" width="3.1" height="3.20" fill="#ffffff"/><rect x="14.20" y="608.80" width="3.1" height="2.20" fill="#ffffff"/><rect x="21.02" y="592.00" width="3.1" height="17.60" fill="#ffffff"/><rect x="27.84" y="577.40" width="3.1" height="32.20" fill="#00bfff"/><rect x="34.67" y="571.40" width="3.1" height="38.20" fill="#00bfff"/><rect x="41.49" y="561.00" width="3.1" height="48.60" fill="#00bfff"/><rect x="48.32" y="555.00" width="3.1" height="54.60" fill="#00bfff"/><rect x="55.14" y="547.60" width="3.1" height="62.00" fill="#00bfff"/><rect x="61.96" y="540.00" width="3.1" height="69.60" fill="#00bfff"/><rect x="68.79" y="543.00" width="3.1" height="66.60" fill="#00bfff"/><rect x="75.61" y="550.00" width="3.1" height="59.60" fill="#00bfff"/><rect x="82.43" y="553.60" width="3.1" height="56.00" fill="#00bfff"/><rect x="89.26" y="556.00" width="3.1" height="53.60" fill="#00bfff"/><rect x="96.08" y="553.60" width="3.1" height="56.00" fill="#00bfff"/><rect x="102.91" y="557.00" width="3.1" height="52.60" fill="#00bfff"/><rect x="109.73" y="558.60" width="3.1" height="51.00" fill="#00bfff"/><rect x="116.55" y="562.00" width="3.1" height="47.60" fill="#00bfff"/><rect x="123.38" y="567.00" width="3.1" height="42.60" fill="#00bfff"/><rect x="130.20" y="567.00" width="3.1" height="42.60" fill="#00bfff"/><rect x="137.02" y="567.00" width="3.1" height="42.60" fill="#00bfff"/><rect x="143.85" y="564.00" width="3.1" height="45.60" fill="#00bfff"/><rect x="150.67" y="562.00" width="3.1" height="47.60" fill="#00bfff"/><rect x="157.50" y="558.60" width="3.1" height="51.00" fill="#00bfff"/><rect x="164.32" y="545.00" width="3.1" height="64.60" fill="#00bfff"/><rect x="171.14" y="547.40" width="3.1" height="62.20" fill="#00bfff"/><rect x="177.97" y="553.60" width="3.1" height="56.00" fill="#00bfff"/><rect x="184.79" y="558.60" width="3.1" height="51.00" fill="#00bfff"/><rect x="191.61" y="572.20" width="3.1" height="37.40" fill="#00bfff"/><rect x="198.44" y="588.00" width="3.1" height="21.60" fill="#ffffff"/><rect x="205.26" y="599.40" width="3.1" height="10.20" fill="#ffffff"/><rect x="212.08" y="604.40" width="3.1" height="5.20" fill="#ffffff"/><rect x="218.91" y="604.00" width="3.1" height="5.60" fill="#ffffff"/><rect x="225.73" y="602.00" width="3.1" height="7.60" fill="#ffffff"/><rect x="232.56" y="593.60" width="3.1" height="16.00" fill="#ffffff"/><rect x="239.38" y="592.00" width="3.1" height="17.60" fill="#ffffff"/><rect x="246.20" y="593.60" width="3.1" height="16.00" fill="#ffffff"/><rect x="253.03" y="604.40" width="3.1" height="5.20" fill="#ffffff"/><rect x="259.85" y="608.80" width="3.1" height="10.20" fill="#ffffff"/><rect x="266.67" y="608.80" width="3.1" height="15.60" fill="#ffffff"/><rect x="273.50" y="608.80" width="3.1" height="14.60" fill="#ffffff"/><rect x="280.32" y="608.80" width="3.1" height="10.20" fill="#ffffff"/><rect x="287.15" y="608.80" width="3.1" height="5.20" fill="#ffffff"/><rect x="293.97" y="608.80" width="3.1" height="1.20" fill="#ffffff"/><rect x="300.79" y="608.80" width="3.1" height="1.80" fill="#ffffff"/><rect x="307.62" y="608.80" width="3.1" height="1.80" fill="#ffffff"/><rect x="314.44" y="599.40" width="3.1" height="10.20" fill="#ffffff"/><rect x="321.26" y="587.40" width="3.1" height="22.20" fill="#ffffff"/><rect x="328.09" y="581.00" width="3.1" height="28.60" fill="#00bfff"/><rect x="334.91" y="569.00" width="3.1" height="40.60" fill="#00bfff"/><rect x="341.74" y="540.00" width="3.1" height="69.60" fill="#00bfff"/><rect x="348.56" y="525.00" width="3.1" height="84.60" fill="#00bfff"/><rect x="355.38" y="549.40" width="3.1" height="60.20" fill="#00bfff"/><rect x="362.21" y="577.40" width="3.1" height="32.20" fill="#00bfff"/><rect x="369.03" y="587.00" width="3.1" height="22.60" fill="#ffffff"/><rect x="375.85" y="595.40" width="3.1" height="14.20" fill="#ffffff"/><rect x="382.68" y="594.40" width="3.1" height="15.20" fill="#ffffff"/><rect x="389.50" y="591.00" width="3.1" height="18.60" fill="#ffffff"/><rect x="396.32" y="591.00" width="3.1" height="18.60" fill="#ffffff"/><rect x="403.15" y="596.00" width="3.1" height="13.60" fill="#ffffff"/><rect x="409.97" y="606.40" width="3.1" height="3.20" fill="#ffffff"/><rect x="416.80" y="608.60" width="3.1" height="1.00" fill="#ffffff"/><rect x="423.62" y="607.40" width="3.1" height="2.20" fill="#ffffff"/><rect x="430.44" y="600.40" width="3.1" height="9.20" fill="#ffffff"/><rect x="437.27" y="593.60" width="3.1" height="16.00" fill="#ffffff"/><rect x="444.09" y="588.60" width="3.1" height="21.00" fill="#ffffff"/><rect x="450.91" y="583.40" width="3.1" height="26.20" fill="#00bfff"/><rect x="457.74" y="584.40" width="3.1" height="25.20" fill="#00bfff"/><rect x="464.56" y="593.00" width="3.1" height="16.60" fill="#ffffff"/><rect x="471.39" y="600.40" width="3.1" height="9.20" fill="#ffffff"/><rect x="478.21" y="600.60" width="3.1" height="9.00" fill="#ffffff"/><rect x="485.03" y="599.00" width="3.1" height="10.60" fill="#ffffff"/><rect x="491.86" y="581.00" width="3.1" height="28.60" fill="#00bfff"/><rect x="498.68" y="564.60" width="3.1" height="45.00" fill="#00bfff"/><rect x="505.50" y="550.00" width="3.1" height="59.60" fill="#00bfff"/><rect x="512.33" y="546.00" width="3.1" height="63.60" fill="#00bfff"/><rect x="519.15" y="549.40" width="3.1" height="60.20" fill="#00bfff"/><rect x="525.97" y="548.40" width="3.1" height="61.20" fill="#00bfff"/><rect x="532.80" y="547.00" width="3.1" height="62.60" fill="#00bfff"/><rect x="539.62" y="551.00" width="3.1" height="58.60" fill="#00bfff"/><rect x="546.45" y="557.00" width="3.1" height="52.60" fill="#00bfff"/><rect x="553.27" y="555.00" width="3.1" height="54.60" fill="#00bfff"/><rect x="560.09" y="547.00" width="3.1" height="62.60" fill="#00bfff"/><rect x="566.92" y="542.40" width="3.1" height="67.20" fill="#00bfff"/><rect x="573.74" y="545.00" width="3.1" height="64.60" fill="#00bfff"/><rect x="580.56" y="562.00" width="3.1" height="47.60" fill="#00bfff"/><rect x="587.39" y="574.00" width="3.1" height="35.60" fill="#00bfff"/><rect x="594.21" y="576.60" width="3.1" height="33.00" fill="#00bfff"/><rect x="601.04" y="577.40" width="3.1" height="32.20" fill="#00bfff"/><rect x="607.86" y="582.00" width="3.1" height="27.60" fill="#00bfff"/><rect x="614.68" y="584.40" width="3.1" height="25.20" fill="#00bfff"/><rect x="621.51" y="584.40" width="3.1" height="25.20" fill="#00bfff"/><rect x="628.33" y="582.60" width="3.1" height="27.00" fill="#00bfff"/><rect x="635.15" y="576.60" width="3.1" height="33.00" fill="#00bfff"/><rect x="641.98" y="577.40" width="3.1" height="32.20" fill="#00bfff"/><rect x="648.80" y="579.00" width="3.1" height="30.60" fill="#00bfff"/><rect x="655.63" y="606.40" width="3.1" height="3.20" fill="#ffffff"/><rect x="662.45" y="608.80" width="3.1" height="7.80" fill="#ffffff"/><rect x="669.27" y="608.80" width="3.1" height="13.20" fill="#ffffff"/><rect x="676.10" y="608.80" width="3.1" height="20.80" fill="#ffffff"/><rect x="682.92" y="608.80" width="3.1" height="19.20" fill="#ffffff"/><rect x="689.74" y="608.80" width="3.1" height="17.60" fill="#ffffff"/><rect x="696.57" y="608.80" width="3.1" height="14.20" fill="#ffffff"/><rect x="703.39" y="608.80" width="3.1" height="11.20" fill="#ffffff"/><rect x="710.21" y="608.80" width="3.1" height="5.20" fill="#ffffff"/><rect x="717.04" y="608.80" width="3.1" height="0.80" fill="#ffffff"/><rect x="723.86" y="608.80" width="3.1" height="0.80" fill="#ffffff"/><rect x="730.69" y="608.80" width="3.1" height="4.60" fill="#ffffff"/><rect x="737.51" y="608.80" width="3.1" height="7.20" fill="#ffffff"/><rect x="744.33" y="608.80" width="3.1" height="7.80" fill="#ffffff"/><rect x="751.16" y="608.80" width="3.1" height="2.80" fill="#ffffff"/><rect x="757.98" y="608.00" width="3.1" height="1.60" fill="#ffffff"/><rect x="764.80" y="605.00" width="3.1" height="4.60" fill="#ffffff"/><rect x="771.63" y="603.00" width="3.1" height="6.60" fill="#ffffff"/><rect x="778.45" y="607.40" width="3.1" height="2.20" fill="#ffffff"/><rect x="785.28" y="608.80" width="3.1" height="3.80" fill="#ffffff"/><rect x="792.10" y="608.80" width="3.1" height="7.80" fill="#ffffff"/><rect x="798.92" y="608.80" width="3.1" height="7.80" fill="#ffffff"/><rect x="805.75" y="608.80" width="3.1" height="1.00" fill="#ffffff"/><rect x="812.57" y="595.00" width="3.1" height="14.60" fill="#ffffff"/><rect x="819.39" y="588.60" width="3.1" height="21.00" fill="#ffffff"/><rect x="826.22" y="583.40" width="3.1" height="26.20" fill="#00bfff"/><rect x="833.04" y="583.40" width="3.1" height="26.20" fill="#00bfff"/><rect x="839.87" y="582.60" width="3.1" height="27.00" fill="#00bfff"/><rect x="846.69" y="580.00" width="3.1" height="29.60" fill="#00bfff"/><rect x="853.51" y="581.60" width="3.1" height="28.00" fill="#00bfff"/><rect x="860.34" y="589.00" width="3.1" height="20.60" fill="#ffffff"/><rect x="867.16" y="596.00" width="3.1" height="13.60" fill="#ffffff"/><rect x="873.98" y="602.00" width="3.1" height="7.60" fill="#ffffff"/><rect x="880.81" y="604.60" width="3.1" height="5.00" fill="#ffffff"/><rect x="887.63" y="604.60" width="3.1" height="5.00" fill="#ffffff"/><rect x="894.45" y="599.60" width="3.1" height="10.00" fill="#ffffff"/><rect x="901.28" y="598.00" width="3.1" height="11.60" fill="#ffffff"/><rect x="908.10" y="600.40" width="3.1" height="9.20" fill="#ffffff"/><rect x="914.93" y="603.00" width="3.1" height="6.60" fill="#ffffff"/><rect x="921.75" y="607.40" width="3.1" height="2.20" fill="#ffffff"/><rect x="928.57" y="608.80" width="3.1" height="6.20" fill="#ffffff"/><rect x="935.40" y="608.80" width="3.1" height="12.20" fill="#ffffff"/><rect x="942.22" y="608.80" width="3.1" height="16.20" fill="#ffffff"/><rect x="949.04" y="608.80" width="3.1" height="18.20" fill="#ffffff"/><rect x="955.87" y="608.80" width="3.1" height="5.20" fill="#ffffff"/><rect x="962.69" y="587.40" width="3.1" height="22.20" fill="#ffffff"/><rect x="969.52" y="580.00" width="3.1" height="29.60" fill="#00bfff"/><rect x="976.34" y="573.00" width="3.1" height="36.60" fill="#00bfff"/><rect x="983.16" y="542.40" width="3.1" height="67.20" fill="#00bfff"/><rect x="989.99" y="541.60" width="3.1" height="68.00" fill="#00bfff"/><rect x="996.81" y="547.40" width="3.1" height="62.20" fill="#00bfff"/><rect x="1003.63" y="552.60" width="3.1" height="57.00" fill="#00bfff"/><rect x="1010.46" y="553.60" width="3.1" height="56.00" fill="#00bfff"/><rect x="1017.28" y="548.20" width="3.1" height="61.40" fill="#00bfff"/><rect x="1024.11" y="531.00" width="3.1" height="78.60" fill="#00bfff"/><rect x="1030.93" y="523.00" width="3.1" height="86.60" fill="#00bfff"/><rect x="1037.75" y="514.00" width="3.1" height="95.60" fill="#00bfff"/><rect x="1044.58" y="518.40" width="3.1" height="91.20" fill="#00bfff"/><rect x="1051.40" y="552.00" width="3.1" height="57.60" fill="#00bfff"/><rect x="1058.22" y="562.00" width="3.1" height="47.60" fill="#00bfff"/><rect x="1065.05" y="564.60" width="3.1" height="45.00" fill="#00bfff"/><rect x="1071.87" y="570.60" width="3.1" height="39.00" fill="#00bfff"/><rect x="1078.69" y="575.00" width="3.1" height="34.60" fill="#00bfff"/><rect x="1085.52" y="575.00" width="3.1" height="34.60" fill="#00bfff"/><rect x="1092.34" y="575.00" width="3.1" height="34.60" fill="#00bfff"/><rect x="1099.17" y="575.00" width="3.1" height="34.60" fill="#00bfff"/><rect x="1105.99" y="583.40" width="3.1" height="26.20" fill="#00bfff"/><rect x="1112.81" y="588.40" width="3.1" height="21.20" fill="#ffffff"/><rect x="1119.64" y="589.40" width="3.1" height="20.20" fill="#ffffff"/><rect x="1126.46" y="588.40" width="3.1" height="21.20" fill="#ffffff"/><rect x="1133.28" y="588.40" width="3.1" height="21.20" fill="#ffffff"/><rect x="1140.11" y="577.40" width="3.1" height="32.20" fill="#00bfff"/><rect x="1146.93" y="574.00" width="3.1" height="35.60" fill="#00bfff"/><rect x="1153.76" y="572.20" width="3.1" height="37.40" fill="#00bfff"/><rect x="1160.58" y="569.00" width="3.1" height="40.60" fill="#00bfff"/><rect x="1167.40" y="561.00" width="3.1" height="48.60" fill="#00bfff"/><rect x="1174.23" y="554.40" width="3.1" height="55.20" fill="#00bfff"/><rect x="1181.05" y="553.60" width="3.1" height="56.00" fill="#00bfff"/><rect x="1187.87" y="552.00" width="3.1" height="57.60" fill="#00bfff"/><rect x="1194.70" y="556.00" width="3.1" height="53.60" fill="#00bfff"/><rect x="1201.52" y="569.00" width="3.1" height="40.60" fill="#00bfff"/><rect x="1208.34" y="580.00" width="3.1" height="29.60" fill="#00bfff"/><rect x="1215.17" y="575.00" width="3.1" height="34.60" fill="#00bfff"/><rect x="1221.99" y="571.40" width="3.1" height="38.20" fill="#00bfff"/><rect x="1228.82" y="566.20" width="3.1" height="43.40" fill="#00bfff"/><rect x="1235.64" y="563.00" width="3.1" height="46.60" fill="#00bfff"/><rect x="1242.46" y="558.60" width="3.1" height="51.00" fill="#00bfff"/><rect x="1249.29" y="553.60" width="3.1" height="56.00" fill="#00bfff"/><rect x="1256.11" y="553.00" width="3.1" height="56.60" fill="#00bfff"/><rect x="1262.93" y="576.00" width="3.1" height="33.60" fill="#00bfff"/><rect x="1269.76" y="588.00" width="3.1" height="21.60" fill="#ffffff"/><rect x="1276.58" y="606.00" width="3.1" height="3.60" fill="#ffffff"/><rect x="1283.41" y="608.80" width="3.1" height="3.60" fill="#ffffff"/><rect x="1290.23" y="608.80" width="3.1" height="10.20" fill="#ffffff"/><rect x="1297.05" y="608.80" width="3.1" height="5.20" fill="#ffffff"/><rect x="1303.88" y="608.80" width="3.1" height="1.00" fill="#ffffff"/><rect x="1310.70" y="608.80" width="3.1" height="4.20" fill="#ffffff"/><rect x="1317.52" y="608.80" width="3.1" height="22.20" fill="#ff0000"/><rect x="1324.35" y="608.80" width="3.1" height="32.60" fill="#ff0000"/><rect x="1331.17" y="608.80" width="3.1" height="34.20" fill="#ff0000"/><rect x="1338.00" y="608.80" width="3.1" height="36.80" fill="#ff0000"/><rect x="1344.82" y="608.80" width="3.1" height="40.80" fill="#ff0000"/><rect x="1351.64" y="608.80" width="3.1" height="37.60" fill="#ff0000"/><rect x="1358.47" y="608.80" width="3.1" height="28.20" fill="#ff0000"/><rect x="1365.29" y="608.80" width="3.1" height="17.80" fill="#ffffff"/><rect x="1372.11" y="608.80" width="3.1" height="4.20" fill="#ffffff"/><rect x="1378.94" y="593.00" width="3.1" height="16.60" fill="#ffffff"/><rect x="1385.76" y="583.40" width="3.1" height="26.20" fill="#00bfff"/><rect x="1392.58" y="576.00" width="3.1" height="33.60" fill="#00bfff"/><rect x="1399.41" y="576.60" width="3.1" height="33.00" fill="#00bfff"/><rect x="1406.23" y="577.40" width="3.1" height="32.20" fill="#00bfff"/><rect x="1413.06" y="577.40" width="3.1" height="32.20" fill="#00bfff"/><rect x="1419.88" y="575.00" width="3.1" height="34.60" fill="#00bfff"/><rect x="1426.70" y="573.00" width="3.1" height="36.60" fill="#00bfff"/><rect x="1433.53" y="571.40" width="3.1" height="38.20" fill="#00bfff"/><rect x="1440.35" y="566.20" width="3.1" height="43.40" fill="#00bfff"/><rect x="1447.17" y="554.40" width="3.1" height="55.20" fill="#00bfff"/><rect x="1454.00" y="544.00" width="3.1" height="65.60" fill="#00bfff"/><rect x="1460.82" y="541.00" width="3.1" height="68.60" fill="#00bfff"/><rect x="1467.65" y="538.20" width="3.1" height="71.40" fill="#00bfff"/><rect x="1474.47" y="538.20" width="3.1" height="71.40" fill="#00bfff"/><rect x="1481.29" y="543.40" width="3.1" height="66.20" fill="#00bfff"/><rect x="1488.12" y="562.00" width="3.1" height="47.60" fill="#00bfff"/><rect x="1494.94" y="580.00" width="3.1" height="29.60" fill="#00bfff"/><rect x="1501.76" y="604.00" width="3.1" height="5.60" fill="#ffffff"/><rect x="1508.59" y="608.80" width="3.1" height="1.80" fill="#ffffff"/><rect x="1515.41" y="608.80" width="3.1" height="4.20" fill="#ffffff"/><rect x="1522.24" y="608.80" width="3.1" height="11.20" fill="#ffffff"/><rect x="1529.06" y="608.80" width="3.1" height="4.20" fill="#ffffff"/><rect x="1535.88" y="605.60" width="3.1" height="4.00" fill="#ffffff"/><rect x="1542.71" y="586.60" width="3.1" height="23.00" fill="#ffffff"/><rect x="1549.53" y="557.00" width="3.1" height="52.60" fill="#00bfff"/>
<line x1="2.5" y1="586.4" x2="1555.4" y2="586.4" stroke="#ff00ff" stroke-width="1.15" stroke-dasharray="7.75 2.55 2.55 2.55 2.55 2.55" stroke-dashoffset="1.3"/>
<line x1="2.5" y1="631.6" x2="1555.4" y2="631.6" stroke="#0000ff" stroke-width="1.15" stroke-dasharray="7.75 2.55 2.55 2.55 2.55 2.55" stroke-dashoffset="1.3"/>
<line x1="90.96" y1="2.3" x2="90.96" y2="771.8" stroke="#d00000" stroke-width="1.35"/>
<line x1="1346.47" y1="2.3" x2="1346.47" y2="771.8" stroke="#d00000" stroke-width="1.35"/>
<line x1="1380.59" y1="2.3" x2="1380.59" y2="771.8" stroke="#d00000" stroke-width="1.35"/>
<path d="M3.0,704.6 L3.0,688.0 L9.0,686.0 L16.0,689.0 L22.0,693.0 L29.0,701.0 L36.0,699.0 L43.0,704.6 L50.0,707.0 L58.0,714.0 L64.0,721.6 L70.0,721.6 L77.0,716.0 L84.0,721.0 L91.0,725.0 L98.0,732.0 L104.0,736.0 L112.0,739.0 L119.0,744.0 L125.0,741.0 L132.0,745.0 L140.0,748.0 L150.0,749.0 L158.0,750.0 L167.0,757.0 L174.0,753.0 L180.0,749.0 L188.0,747.6 L194.0,745.0 L200.0,736.4 L212.0,735.0 L224.0,737.6 L240.0,737.6 L250.0,731.0 L262.0,726.0 L280.0,725.0 L290.0,723.6 L298.0,723.6 L308.0,721.6 L310.0,722.0 L322.0,726.0 L336.0,727.0 L350.0,735.0 L357.0,732.0 L363.0,725.0 L370.0,724.4 L377.0,721.0 L386.0,724.4 L398.0,724.4 L404.0,721.0 L412.0,713.6 L422.0,717.0 L436.0,722.0 L458.0,721.6 L472.0,715.0 L482.0,715.6 L500.0,722.0 L510.0,723.6 L522.0,722.4 L536.0,725.6 L548.0,723.6 L562.0,733.0 L569.0,729.6 L575.0,733.0 L584.0,724.0 L590.0,722.0 L602.0,723.0 L616.0,725.6 L620.0,725.0 L628.0,726.0 L637.0,729.6 L650.0,726.0 L662.0,712.4 L666.0,711.0 L670.0,711.0 L682.0,707.0 L690.0,709.6 L702.0,708.4 L718.0,717.6 L726.0,714.4 L732.0,706.4 L740.0,710.0 L752.0,713.6 L760.0,713.0 L766.0,714.4 L780.0,709.0 L786.0,705.0 L792.0,703.2 L798.0,705.0 L804.0,709.0 L814.0,721.6 L820.0,720.0 L828.0,723.6 L840.0,722.4 L848.0,725.6 L858.0,720.4 L868.0,716.4 L878.0,718.4 L890.0,719.6 L902.0,721.6 L912.0,717.6 L924.0,719.0 L930.0,717.0 L938.0,716.0 L952.0,717.6 L964.0,724.0 L977.0,725.0 L984.0,732.4 L992.0,735.0 L1006.0,738.0 L1018.0,743.6 L1026.0,752.0 L1034.0,756.0 L1040.0,759.6 L1046.0,760.4 L1053.0,748.4 L1059.0,747.0 L1066.0,750.4 L1074.0,746.0 L1080.0,742.4 L1087.0,749.0 L1096.0,745.0 L1104.0,741.6 L1114.0,733.6 L1121.0,738.0 L1134.0,737.0 L1144.0,741.6 L1154.0,740.4 L1170.0,747.0 L1175.0,744.6 L1182.0,746.6 L1196.0,743.0 L1210.0,733.0 L1216.0,743.0 L1224.0,750.0 L1236.0,751.6 L1239.0,750.4 L1240.0,750.0 L1248.0,747.0 L1257.0,748.4 L1264.0,736.0 L1271.0,727.0 L1278.0,726.4 L1286.0,723.0 L1293.0,721.6 L1298.0,724.0 L1305.0,729.0 L1313.0,721.0 L1320.0,709.0 L1325.0,704.6 L1342.5,698.2 L1356.0,698.2 L1360.0,704.6 L1365.0,711.0 L1368.0,713.6 L1374.0,717.0 L1380.0,725.0 L1388.0,729.0 L1396.0,731.0 L1406.0,729.6 L1416.0,734.4 L1424.0,735.0 L1433.0,733.6 L1444.0,739.0 L1452.0,743.6 L1460.0,745.6 L1476.0,745.6 L1483.0,746.4 L1490.0,744.4 L1500.0,738.4 L1514.0,739.0 L1523.0,737.0 L1532.0,740.4 L1542.0,745.0 L1551.6,754.4 L1551.6,704.6 Z" fill="#ff1493"/>
<path d="M3.0,704.6 L3.0,714.0 L16.0,713.0 L22.0,708.0 L38.0,706.0 L43.0,704.6 L50.0,702.4 L60.0,698.0 L64.0,696.4 L69.0,698.0 L76.0,697.6 L83.0,693.0 L90.0,691.6 L94.0,688.0 L98.0,686.4 L103.0,688.6 L110.0,684.4 L116.0,686.0 L122.0,687.4 L132.0,682.4 L138.0,684.0 L146.0,681.0 L154.0,682.0 L164.0,679.0 L170.0,679.6 L176.0,683.0 L185.0,681.6 L192.0,685.0 L200.0,688.0 L208.0,689.0 L218.0,688.0 L226.0,688.6 L234.0,686.0 L242.0,689.0 L250.0,691.6 L260.0,693.0 L280.0,693.6 L298.0,696.0 L303.0,696.6 L308.0,695.2 L310.0,695.0 L330.0,693.0 L338.0,691.0 L346.0,689.0 L353.0,691.0 L362.0,693.6 L370.0,696.4 L378.0,697.0 L390.0,695.0 L400.0,697.6 L410.0,700.0 L422.0,697.6 L434.0,696.0 L450.0,695.0 L462.0,698.0 L472.0,699.6 L482.0,698.0 L496.0,695.0 L510.0,695.0 L522.0,696.0 L528.0,694.0 L550.0,693.6 L560.0,690.0 L568.0,691.0 L578.0,693.6 L596.0,693.0 L610.0,694.0 L620.0,693.4 L636.0,691.0 L646.0,693.6 L650.0,694.0 L654.0,698.0 L658.0,702.0 L664.0,699.6 L678.0,703.6 L684.0,699.6 L690.0,703.0 L702.0,701.0 L712.0,698.0 L722.0,701.0 L734.0,704.0 L744.0,702.0 L753.0,698.4 L760.0,700.0 L772.0,699.6 L780.0,704.6 L786.0,704.6 L792.0,704.6 L798.0,704.6 L808.0,698.0 L820.0,696.0 L864.0,698.0 L872.0,698.4 L880.0,697.6 L900.0,696.0 L930.0,695.0 L950.0,694.0 L964.0,693.0 L976.0,693.6 L984.0,688.4 L990.0,689.6 L1006.0,687.6 L1018.0,683.6 L1026.0,678.4 L1032.0,677.6 L1039.0,674.6 L1046.0,679.0 L1053.0,684.4 L1060.0,681.0 L1068.0,682.4 L1074.0,685.0 L1080.0,685.0 L1087.0,681.6 L1096.0,683.6 L1108.0,688.4 L1114.0,688.0 L1122.0,686.6 L1134.0,688.0 L1142.0,684.6 L1148.0,687.6 L1158.0,685.6 L1170.0,683.0 L1182.0,685.0 L1189.0,683.0 L1196.0,687.0 L1203.0,689.6 L1210.0,689.6 L1217.0,680.0 L1222.0,682.0 L1230.0,679.0 L1238.0,681.6 L1240.0,682.0 L1250.0,682.0 L1258.0,685.6 L1264.0,691.0 L1270.0,690.0 L1276.0,694.0 L1296.0,693.0 L1300.0,692.0 L1306.0,693.6 L1312.0,698.0 L1317.0,704.6 L1332.5,705.2 L1345.0,711.0 L1352.5,704.8 L1360.0,703.5 L1364.0,702.0 L1372.0,698.0 L1380.0,690.0 L1386.0,691.6 L1393.0,688.0 L1400.0,692.6 L1406.0,690.6 L1420.0,689.0 L1436.0,688.6 L1448.0,685.0 L1460.0,684.4 L1472.0,683.0 L1484.0,683.6 L1490.0,686.0 L1498.0,686.6 L1504.0,688.0 L1510.0,687.0 L1522.0,688.4 L1530.0,685.6 L1540.0,683.0 L1551.6,677.0 L1551.6,704.6 Z" fill="#32cd32"/>
<line x1="2.5" y1="704.6" x2="1551.0798999999997" y2="704.6" stroke="#fffff0" stroke-opacity="0.72" stroke-width="1.1"/>
<line x1="90.96" y1="690.74" x2="90.96" y2="704.60" stroke="#cdcd32" stroke-width="1.2"/>
<line x1="90.96" y1="704.60" x2="90.96" y2="724.98" stroke="#001493" stroke-width="1.2"/>
<line x1="1346.47" y1="704.60" x2="1346.47" y2="709.79" stroke="#cdcd32" stroke-width="1.2"/>
<line x1="1346.47" y1="698.25" x2="1346.47" y2="704.60" stroke="#001493" stroke-width="1.2"/>
<line x1="1380.59" y1="690.16" x2="1380.59" y2="704.60" stroke="#cdcd32" stroke-width="1.2"/>
<line x1="1380.59" y1="704.60" x2="1380.59" y2="725.29" stroke="#001493" stroke-width="1.2"/>
<path d="M3,693.4 L520,693.4 L527.5,696.1 L1552,696.0" fill="none" stroke="#0000ff" stroke-width="3.6"/>
<line x1="3.1" y1="693.4" x2="83.2" y2="693.4" stroke="#ffff00" stroke-width="3.6"/>
<line x1="1338.2" y1="696.0" x2="1372.6" y2="696.0" stroke="#ffff00" stroke-width="3.6"/>
<rect x="88.96" y="2.30" width="4.0" height="4.0" fill="#00ff00" stroke="#ff0000" stroke-width="1.1"/>
<rect x="88.96" y="494.00" width="4.0" height="4.0" fill="#00ff00" stroke="#ff0000" stroke-width="1.1"/>
<rect x="1344.47" y="2.30" width="4.0" height="4.0" fill="#00ff00" stroke="#ff0000" stroke-width="1.1"/>
<rect x="1344.47" y="494.00" width="4.0" height="4.0" fill="#00ff00" stroke="#ff0000" stroke-width="1.1"/>
<rect x="1378.59" y="2.30" width="4.0" height="4.0" fill="#00ff00" stroke="#ff0000" stroke-width="1.1"/>
<rect x="1378.59" y="494.00" width="4.0" height="4.0" fill="#00ff00" stroke="#ff0000" stroke-width="1.1"/>
<g stroke="#00d200" stroke-width="1.4" fill="none">
<line x1="2.5" y1="1.5999999999999999" x2="2.5" y2="769.4000000000001"/>
<line x1="2.5" y1="2.3" x2="1556.1000000000001" y2="2.3"/>
<line x1="1555.4" y1="2.3" x2="1555.4" y2="499.1"/>
<line x1="1555.4" y1="501.0" x2="1555.4" y2="665.0500000000001"/>
<line x1="1555.4" y1="666.95" x2="1555.4" y2="768.7"/>
<line x1="2.5" y1="768.7" x2="1558.9" y2="768.7"/>
<rect x="2.5" y="498.5" width="1552.9" height="2" fill="#004800" stroke="none"/>
<line x1="2.5" y1="498.5" x2="1558.9" y2="498.5" stroke-width="1.25"/>
<line x1="2.5" y1="500.55" x2="1555.4" y2="500.55" stroke-width="1.25"/>
<line x1="1555.4" y1="501.5" x2="1558.9" y2="501.5" stroke-width="1.0"/>
<rect x="2.5" y="664.45" width="1552.9" height="2" fill="#004800" stroke="none"/>
<line x1="2.5" y1="664.45" x2="1558.9" y2="664.45" stroke-width="1.25"/>
<line x1="2.5" y1="666.5" x2="1555.4" y2="666.5" stroke-width="1.25"/>
<line x1="1555.4" y1="667.45" x2="1558.9" y2="667.45" stroke-width="1.0"/>
<line x1="1555.4" y1="6.50" x2="1558.9" y2="6.50" stroke-width="1.0"/>
<line x1="1555.4" y1="33.85" x2="1558.9" y2="33.85" stroke-width="1.0"/>
<line x1="1555.4" y1="61.20" x2="1558.9" y2="61.20" stroke-width="1.0"/>
<line x1="1555.4" y1="88.55" x2="1558.9" y2="88.55" stroke-width="1.0"/>
<line x1="1555.4" y1="115.90" x2="1558.9" y2="115.90" stroke-width="1.0"/>
<line x1="1555.4" y1="143.25" x2="1558.9" y2="143.25" stroke-width="1.0"/>
<line x1="1555.4" y1="170.60" x2="1558.9" y2="170.60" stroke-width="1.0"/>
<line x1="1555.4" y1="197.95" x2="1558.9" y2="197.95" stroke-width="1.0"/>
<line x1="1555.4" y1="225.30" x2="1558.9" y2="225.30" stroke-width="1.0"/>
<line x1="1555.4" y1="252.65" x2="1558.9" y2="252.65" stroke-width="1.0"/>
<line x1="1555.4" y1="280.00" x2="1558.9" y2="280.00" stroke-width="1.0"/>
<line x1="1555.4" y1="307.35" x2="1558.9" y2="307.35" stroke-width="1.0"/>
<line x1="1555.4" y1="334.70" x2="1558.9" y2="334.70" stroke-width="1.0"/>
<line x1="1555.4" y1="362.05" x2="1558.9" y2="362.05" stroke-width="1.0"/>
<line x1="1555.4" y1="389.40" x2="1558.9" y2="389.40" stroke-width="1.0"/>
<line x1="1555.4" y1="416.75" x2="1558.9" y2="416.75" stroke-width="1.0"/>
<line x1="1555.4" y1="444.10" x2="1558.9" y2="444.10" stroke-width="1.0"/>
<line x1="1555.4" y1="471.45" x2="1558.9" y2="471.45" stroke-width="1.0"/>
<line x1="1555.4" y1="586.60" x2="1558.9" y2="586.60" stroke-width="1.0"/>
<line x1="1555.4" y1="609.20" x2="1558.9" y2="609.20" stroke-width="1.0"/>
<line x1="1555.4" y1="631.60" x2="1558.9" y2="631.60" stroke-width="1.0"/>
<line x1="2.25" y1="770.9" x2="2.25" y2="775.0" stroke-width="1.1"/>
<line x1="56.84" y1="770.9" x2="56.84" y2="775.0" stroke-width="1.1"/>
<line x1="111.42" y1="770.9" x2="111.42" y2="775.0" stroke-width="1.1"/>
<line x1="166.00" y1="770.9" x2="166.00" y2="775.0" stroke-width="1.1"/>
<line x1="220.59" y1="770.9" x2="220.59" y2="775.0" stroke-width="1.1"/>
<line x1="275.18" y1="770.9" x2="275.18" y2="775.0" stroke-width="1.1"/>
<line x1="329.76" y1="770.9" x2="329.76" y2="775.0" stroke-width="1.1"/>
<line x1="384.35" y1="770.9" x2="384.35" y2="775.0" stroke-width="1.1"/>
<line x1="438.93" y1="770.9" x2="438.93" y2="775.0" stroke-width="1.1"/>
<line x1="493.51" y1="770.9" x2="493.51" y2="775.0" stroke-width="1.1"/>
<line x1="548.10" y1="770.9" x2="548.10" y2="775.0" stroke-width="1.1"/>
<line x1="602.69" y1="770.9" x2="602.69" y2="775.0" stroke-width="1.1"/>
<line x1="657.27" y1="770.9" x2="657.27" y2="775.0" stroke-width="1.1"/>
<line x1="711.86" y1="770.9" x2="711.86" y2="775.0" stroke-width="1.1"/>
<line x1="766.44" y1="770.9" x2="766.44" y2="775.0" stroke-width="1.1"/>
<line x1="821.02" y1="770.9" x2="821.02" y2="775.0" stroke-width="1.1"/>
<line x1="875.61" y1="770.9" x2="875.61" y2="775.0" stroke-width="1.1"/>
<line x1="930.20" y1="770.9" x2="930.20" y2="775.0" stroke-width="1.1"/>
<line x1="984.78" y1="770.9" x2="984.78" y2="775.0" stroke-width="1.1"/>
<line x1="1039.37" y1="770.9" x2="1039.37" y2="775.0" stroke-width="1.1"/>
<line x1="1093.95" y1="770.9" x2="1093.95" y2="775.0" stroke-width="1.1"/>
<line x1="1148.54" y1="770.9" x2="1148.54" y2="775.0" stroke-width="1.1"/>
<line x1="1203.12" y1="770.9" x2="1203.12" y2="775.0" stroke-width="1.1"/>
<line x1="1257.70" y1="770.9" x2="1257.70" y2="775.0" stroke-width="1.1"/>
<line x1="1312.29" y1="770.9" x2="1312.29" y2="775.0" stroke-width="1.1"/>
<line x1="1366.88" y1="770.9" x2="1366.88" y2="775.0" stroke-width="1.1"/>
<line x1="1421.46" y1="770.9" x2="1421.46" y2="775.0" stroke-width="1.1"/>
<line x1="1476.05" y1="770.9" x2="1476.05" y2="775.0" stroke-width="1.1"/>
<line x1="1530.63" y1="770.9" x2="1530.63" y2="775.0" stroke-width="1.1"/>
</g>
<polygon points="89.90,396.60 97.10,403.80 97.10,407.40 92.10,402.50 92.10,412.80 87.70,412.80 87.70,402.50 82.70,407.40 82.70,403.80" fill="#0000ff"/>
<polygon points="90.30,440.80 96.90,448.20 93.90,448.20 93.90,458.80 86.70,458.80 86.70,448.20 83.70,448.20" fill="#000" fill-opacity="0" stroke="#ffa500" stroke-width="1.45" stroke-linejoin="miter"/>
<polygon points="1345.90,115.40 1352.50,108.00 1349.50,108.00 1349.50,97.90 1342.30,97.90 1342.30,108.00 1339.30,108.00" fill="#000" fill-opacity="0" stroke="#ffa500" stroke-width="1.45" stroke-linejoin="miter"/>
<polygon points="1345.60,156.00 1352.80,148.80 1352.80,145.20 1347.80,150.10 1347.80,140.20 1343.40,140.20 1343.40,150.10 1338.40,145.20 1338.40,148.80" fill="#ff0000"/>
<polygon points="1379.80,168.20 1387.00,175.40 1387.00,179.00 1382.00,174.10 1382.00,184.40 1377.60,184.40 1377.60,174.10 1372.60,179.00 1372.60,175.40" fill="#0000ff"/>
<polygon points="1380.00,225.80 1386.60,233.20 1383.60,233.20 1383.60,243.80 1376.40,243.80 1376.40,233.20 1373.40,233.20" fill="#000" fill-opacity="0" stroke="#ffa500" stroke-width="1.45" stroke-linejoin="miter"/>
<text x="5.5" y="11.2" font-size="8.7" fill="#00ff00" stroke="#00ff00" stroke-width="0.18" textLength="75.2" lengthAdjust="spacingAndGlyphs">GOLD.,&#8201;M15:&#160; GOLD</text>
<text x="4.7" y="511.0" font-size="8.7" fill="#00ff00" stroke="#00ff00" stroke-width="0.18" textLength="43.8" lengthAdjust="spacingAndGlyphs">i-KlPrice 112</text>
<text x="5.6" y="677.3" font-size="8.7" fill="#00ff00" stroke="#00ff00" stroke-width="0.18" textLength="194.0" lengthAdjust="spacingAndGlyphs">15 minutes iTrend ADXVMA (21) 22.341 -40.852 6.862</text>
<text x="1559.5" y="9.1" font-size="8.7" fill="#00ff00" stroke="#00ff00" stroke-width="0.18" textLength="27.7" lengthAdjust="spacingAndGlyphs">2733.21</text>
<text x="1559.5" y="36.45" font-size="8.7" fill="#00ff00" stroke="#00ff00" stroke-width="0.18" textLength="27.7" lengthAdjust="spacingAndGlyphs">2726.01</text>
<text x="1559.5" y="63.8" font-size="8.7" fill="#00ff00" stroke="#00ff00" stroke-width="0.18" textLength="27.7" lengthAdjust="spacingAndGlyphs">2718.81</text>
<text x="1559.5" y="91.15" font-size="8.7" fill="#00ff00" stroke="#00ff00" stroke-width="0.18" textLength="27.7" lengthAdjust="spacingAndGlyphs">2711.61</text>
<text x="1559.5" y="118.5" font-size="8.7" fill="#00ff00" stroke="#00ff00" stroke-width="0.18" textLength="27.7" lengthAdjust="spacingAndGlyphs">2704.41</text>
<text x="1559.5" y="145.85" font-size="8.7" fill="#00ff00" stroke="#00ff00" stroke-width="0.18" textLength="27.7" lengthAdjust="spacingAndGlyphs">2697.21</text>
<text x="1559.5" y="173.2" font-size="8.7" fill="#00ff00" stroke="#00ff00" stroke-width="0.18" textLength="27.7" lengthAdjust="spacingAndGlyphs">2690.01</text>
<text x="1559.5" y="200.55" font-size="8.7" fill="#00ff00" stroke="#00ff00" stroke-width="0.18" textLength="27.7" lengthAdjust="spacingAndGlyphs">2682.81</text>
<text x="1559.5" y="227.9" font-size="8.7" fill="#00ff00" stroke="#00ff00" stroke-width="0.18" textLength="27.7" lengthAdjust="spacingAndGlyphs">2675.61</text>
<text x="1559.5" y="255.25" font-size="8.7" fill="#00ff00" stroke="#00ff00" stroke-width="0.18" textLength="27.7" lengthAdjust="spacingAndGlyphs">2668.41</text>
<text x="1559.5" y="282.6" font-size="8.7" fill="#00ff00" stroke="#00ff00" stroke-width="0.18" textLength="27.7" lengthAdjust="spacingAndGlyphs">2661.21</text>
<text x="1559.5" y="309.95" font-size="8.7" fill="#00ff00" stroke="#00ff00" stroke-width="0.18" textLength="27.7" lengthAdjust="spacingAndGlyphs">2654.01</text>
<text x="1559.5" y="337.3" font-size="8.7" fill="#00ff00" stroke="#00ff00" stroke-width="0.18" textLength="27.7" lengthAdjust="spacingAndGlyphs">2646.81</text>
<text x="1559.5" y="364.65" font-size="8.7" fill="#00ff00" stroke="#00ff00" stroke-width="0.18" textLength="27.7" lengthAdjust="spacingAndGlyphs">2639.61</text>
<text x="1559.5" y="392.0" font-size="8.7" fill="#00ff00" stroke="#00ff00" stroke-width="0.18" textLength="27.7" lengthAdjust="spacingAndGlyphs">2632.41</text>
<text x="1559.5" y="419.35" font-size="8.7" fill="#00ff00" stroke="#00ff00" stroke-width="0.18" textLength="27.7" lengthAdjust="spacingAndGlyphs">2625.21</text>
<text x="1559.5" y="446.7" font-size="8.7" fill="#00ff00" stroke="#00ff00" stroke-width="0.18" textLength="27.7" lengthAdjust="spacingAndGlyphs">2618.01</text>
<text x="1559.5" y="474.05" font-size="8.7" fill="#00ff00" stroke="#00ff00" stroke-width="0.18" textLength="27.7" lengthAdjust="spacingAndGlyphs">2610.81</text>
<rect x="1556.9" y="67.8" width="34.0" height="11.0" fill="#ff0000"/>
<rect x="1556.9" y="68.9" width="34.0" height="9.9" fill="#00ff00"/>
<text x="1559.8" y="76.6" font-size="8.7" fill="#000" stroke="#000" stroke-width="0.25" textLength="27.7" lengthAdjust="spacingAndGlyphs">2715.45</text>
<text x="1559.5" y="508.0" font-size="8.7" fill="#00ff00" stroke="#00ff00" stroke-width="0.18" textLength="12.5" lengthAdjust="spacingAndGlyphs">237</text>
<text x="1559.5" y="589.8" font-size="8.7" fill="#00ff00" stroke="#00ff00" stroke-width="0.18" textLength="8.3" lengthAdjust="spacingAndGlyphs">50</text>
<text x="1559.5" y="612.3" font-size="8.7" fill="#00ff00" stroke="#00ff00" stroke-width="0.18" textLength="4.2" lengthAdjust="spacingAndGlyphs">0</text>
<text x="1559.5" y="634.7" font-size="8.7" fill="#00ff00" stroke="#00ff00" stroke-width="0.18" textLength="11.2" lengthAdjust="spacingAndGlyphs">-50</text>
<text x="1559.5" y="663.0" font-size="8.7" fill="#00ff00" stroke="#00ff00" stroke-width="0.18" textLength="15.4" lengthAdjust="spacingAndGlyphs">-122</text>
<text x="1559.5" y="674.0" font-size="8.7" fill="#00ff00" stroke="#00ff00" stroke-width="0.18" textLength="23.6" lengthAdjust="spacingAndGlyphs">31.600</text>
<text x="1559.5" y="767.0" font-size="8.7" fill="#00ff00" stroke="#00ff00" stroke-width="0.18" textLength="26.5" lengthAdjust="spacingAndGlyphs">-53.140</text>
<text x="1.15" y="782.0" font-size="8.7" fill="#00ff00" stroke="#00ff00" stroke-width="0.18" textLength="46.7" lengthAdjust="spacingAndGlyphs">20 Nov 2024</text>
<text x="55.73" y="782.0" font-size="8.7" fill="#00ff00" stroke="#00ff00" stroke-width="0.18" textLength="48.6" lengthAdjust="spacingAndGlyphs">20 Nov 15:00</text>
<text x="110.32" y="782.0" font-size="8.7" fill="#00ff00" stroke="#00ff00" stroke-width="0.18" textLength="48.6" lengthAdjust="spacingAndGlyphs">20 Nov 17:00</text>
<text x="164.91" y="782.0" font-size="8.7" fill="#00ff00" stroke="#00ff00" stroke-width="0.18" textLength="48.6" lengthAdjust="spacingAndGlyphs">20 Nov 19:00</text>
<text x="219.49" y="782.0" font-size="8.7" fill="#00ff00" stroke="#00ff00" stroke-width="0.18" textLength="48.6" lengthAdjust="spacingAndGlyphs">20 Nov 21:00</text>
<text x="274.07" y="782.0" font-size="8.7" fill="#00ff00" stroke="#00ff00" stroke-width="0.18" textLength="48.6" lengthAdjust="spacingAndGlyphs">20 Nov 23:00</text>
<text x="328.66" y="782.0" font-size="8.7" fill="#00ff00" stroke="#00ff00" stroke-width="0.18" textLength="48.6" lengthAdjust="spacingAndGlyphs">21 Nov 02:00</text>
<text x="383.25" y="782.0" font-size="8.7" fill="#00ff00" stroke="#00ff00" stroke-width="0.18" textLength="48.6" lengthAdjust="spacingAndGlyphs">21 Nov 04:00</text>
<text x="437.83" y="782.0" font-size="8.7" fill="#00ff00" stroke="#00ff00" stroke-width="0.18" textLength="48.6" lengthAdjust="spacingAndGlyphs">21 Nov 06:00</text>
<text x="492.41" y="782.0" font-size="8.7" fill="#00ff00" stroke="#00ff00" stroke-width="0.18" textLength="48.6" lengthAdjust="spacingAndGlyphs">21 Nov 08:00</text>
<text x="547.0" y="782.0" font-size="8.7" fill="#00ff00" stroke="#00ff00" stroke-width="0.18" textLength="48.6" lengthAdjust="spacingAndGlyphs">21 Nov 10:00</text>
<text x="601.59" y="782.0" font-size="8.7" fill="#00ff00" stroke="#00ff00" stroke-width="0.18" textLength="48.6" lengthAdjust="spacingAndGlyphs">21 Nov 12:00</text>
<text x="656.17" y="782.0" font-size="8.7" fill="#00ff00" stroke="#00ff00" stroke-width="0.18" textLength="48.6" lengthAdjust="spacingAndGlyphs">21 Nov 14:00</text>
<text x="710.75" y="782.0" font-size="8.7" fill="#00ff00" stroke="#00ff00" stroke-width="0.18" textLength="48.6" lengthAdjust="spacingAndGlyphs">21 Nov 16:00</text>
<text x="765.34" y="782.0" font-size="8.7" fill="#00ff00" stroke="#00ff00" stroke-width="0.18" textLength="48.6" lengthAdjust="spacingAndGlyphs">21 Nov 18:00</text>
<text x="819.92" y="782.0" font-size="8.7" fill="#00ff00" stroke="#00ff00" stroke-width="0.18" textLength="48.6" lengthAdjust="spacingAndGlyphs">21 Nov 20:00</text>
<text x="874.51" y="782.0" font-size="8.7" fill="#00ff00" stroke="#00ff00" stroke-width="0.18" textLength="48.6" lengthAdjust="spacingAndGlyphs">21 Nov 22:00</text>
<text x="929.1" y="782.0" font-size="8.7" fill="#00ff00" stroke="#00ff00" stroke-width="0.18" textLength="48.6" lengthAdjust="spacingAndGlyphs">22 Nov 01:00</text>
<text x="983.68" y="782.0" font-size="8.7" fill="#00ff00" stroke="#00ff00" stroke-width="0.18" textLength="48.6" lengthAdjust="spacingAndGlyphs">22 Nov 03:00</text>
<text x="1038.27" y="782.0" font-size="8.7" fill="#00ff00" stroke="#00ff00" stroke-width="0.18" textLength="48.6" lengthAdjust="spacingAndGlyphs">22 Nov 05:00</text>
<text x="1092.85" y="782.0" font-size="8.7" fill="#00ff00" stroke="#00ff00" stroke-width="0.18" textLength="48.6" lengthAdjust="spacingAndGlyphs">22 Nov 07:00</text>
<text x="1147.44" y="782.0" font-size="8.7" fill="#00ff00" stroke="#00ff00" stroke-width="0.18" textLength="48.6" lengthAdjust="spacingAndGlyphs">22 Nov 09:00</text>
<text x="1202.02" y="782.0" font-size="8.7" fill="#00ff00" stroke="#00ff00" stroke-width="0.18" textLength="48.6" lengthAdjust="spacingAndGlyphs">22 Nov 11:00</text>
<text x="1256.61" y="782.0" font-size="8.7" fill="#00ff00" stroke="#00ff00" stroke-width="0.18" textLength="48.6" lengthAdjust="spacingAndGlyphs">22 Nov 13:00</text>
<text x="1311.19" y="782.0" font-size="8.7" fill="#00ff00" stroke="#00ff00" stroke-width="0.18" textLength="48.6" lengthAdjust="spacingAndGlyphs">22 Nov 15:00</text>
<text x="1365.78" y="782.0" font-size="8.7" fill="#00ff00" stroke="#00ff00" stroke-width="0.18" textLength="48.6" lengthAdjust="spacingAndGlyphs">22 Nov 17:00</text>
<text x="1420.36" y="782.0" font-size="8.7" fill="#00ff00" stroke="#00ff00" stroke-width="0.18" textLength="48.6" lengthAdjust="spacingAndGlyphs">22 Nov 19:00</text>
<text x="1474.95" y="782.0" font-size="8.7" fill="#00ff00" stroke="#00ff00" stroke-width="0.18" textLength="48.6" lengthAdjust="spacingAndGlyphs">22 Nov 21:00</text>
<text x="1529.53" y="782.0" font-size="8.7" fill="#00ff00" stroke="#00ff00" stroke-width="0.18" textLength="48.6" lengthAdjust="spacingAndGlyphs">22 Nov 23:00</text>
<rect x="56.8" y="774.7" width="67.0" height="10.2" fill="#ff0000"/>
<text x="59.7" y="782.7" font-size="8.7" fill="#000" stroke="#000" stroke-width="0.25" textLength="60.9" lengthAdjust="spacingAndGlyphs">2024.11.20 16:15</text>
<rect x="1312.4" y="774.7" width="67.0" height="10.2" fill="#ff0000"/>
<text x="1315.3" y="782.7" font-size="8.7" fill="#000" stroke="#000" stroke-width="0.25" textLength="60.9" lengthAdjust="spacingAndGlyphs">2024.11.22 16:15</text>
<rect x="1346.5" y="774.7" width="66.0" height="10.2" fill="#ff0000"/>
<text x="1348.4" y="782.7" font-size="8.7" fill="#000" stroke="#000" stroke-width="0.25" textLength="60.9" lengthAdjust="spacingAndGlyphs">2024.11.22 17:30</text>
</svg></body></html>
